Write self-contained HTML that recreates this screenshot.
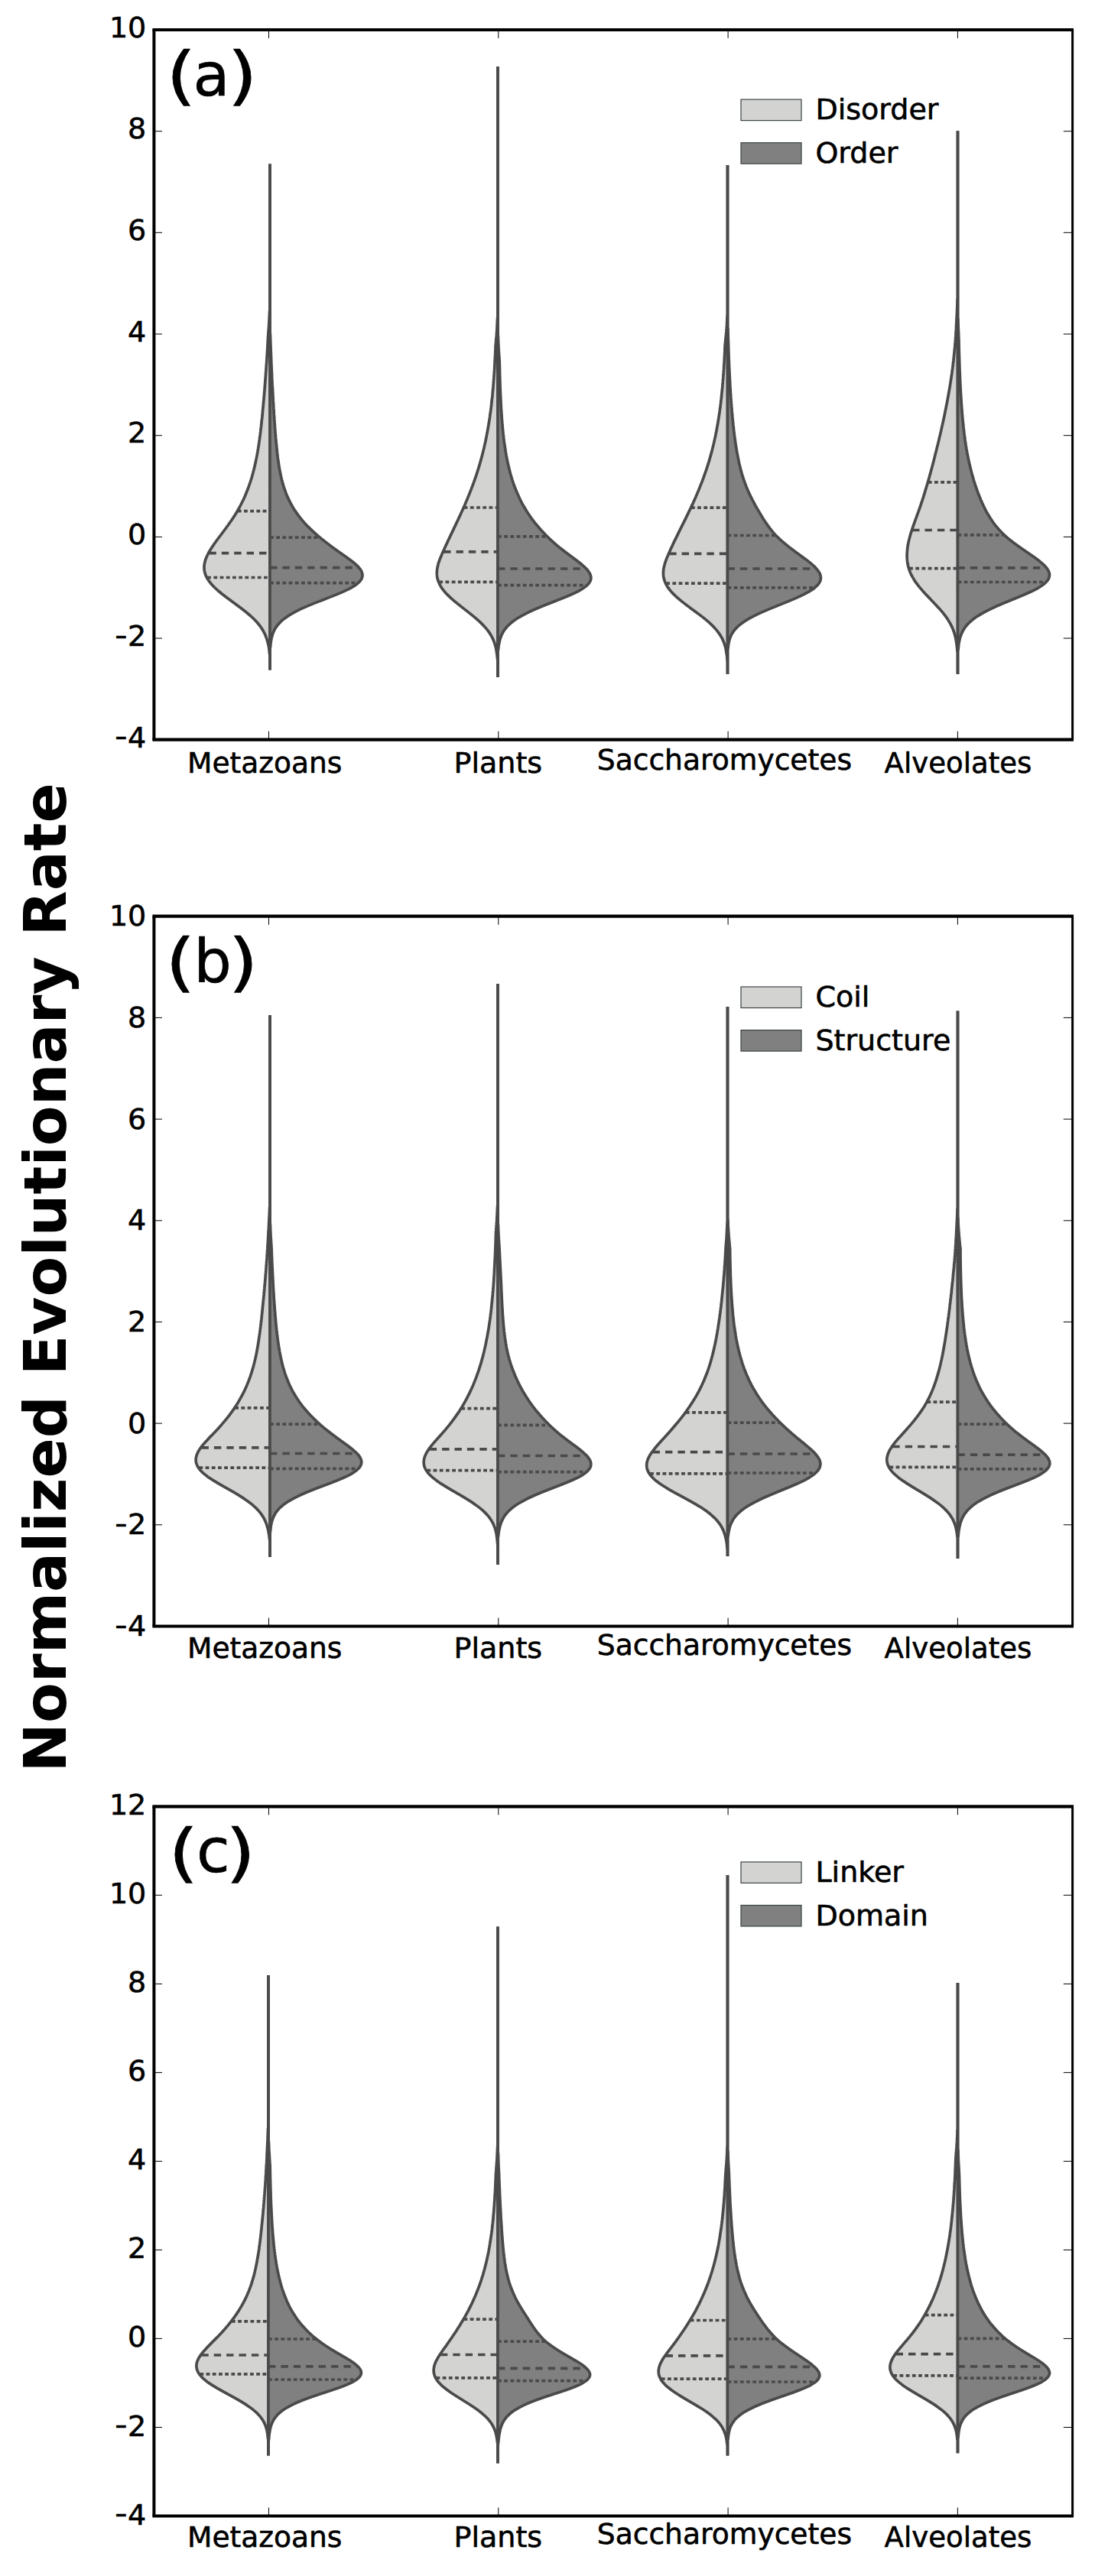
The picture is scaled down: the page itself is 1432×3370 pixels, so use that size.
<!DOCTYPE html>
<html lang="en"><head><meta charset="utf-8"><title>Normalized Evolutionary Rate</title>
<style>html,body{margin:0;padding:0;background:#fff;overflow:hidden}svg{display:block}text{font-family:"DejaVu Sans", "Liberation Sans", sans-serif;fill:#000}.t{font-size:38px;stroke:#000;stroke-width:.6px}.h{stroke-width:.5px}.v{stroke:#4a4a4a;stroke-width:3.7}.q{stroke:#4a4a4a;stroke-width:3.7;fill:none}.tk{stroke:#000;stroke-width:1}</style></head><body>
<svg width="1432" height="3370" viewBox="0 0 1432 3370">
<rect width="1432" height="3370" fill="#fff"/>
<text transform="translate(85.6 1671.4) rotate(-90)" text-anchor="middle" font-size="77" font-weight="bold" id="ylab">Normalized Evolutionary Rate</text>
<g id="panel-a">
<path class="v" fill="#d3d3d2" d="M353 214.5L353 405L352.6 407L352.5 409L352.4 411L352.3 413L352.2 415L352.2 417L352 419L351.9 421L351.8 423L351.7 425L351.6 427L351.4 429L351.3 431L351.1 433L351 435L350.8 437L350.7 439L350.5 441L350.4 443L350.3 445L350.2 447L350.1 449L350 451L349.9 453L349.8 455L349.7 457L349.6 459L349.4 461L349.3 463L349.2 465L349.1 467L348.9 469L348.8 471L348.7 473L348.6 475L348.4 477L348.3 479L348.1 481L348 483L347.9 485L347.7 487L347.6 489L347.4 491L347.3 493L347.1 495L347 497L346.8 499L346.7 501L346.5 503L346.4 505L346.2 507L346.1 509L345.9 511L345.7 513L345.6 515L345.4 517L345.2 519L345.1 521L344.9 523L344.7 525L344.5 527L344.4 529L344.2 531L344 533L343.8 535L343.6 537L343.4 539L343.3 541L343.1 543L342.9 545L342.7 547L342.4 549L342.2 551L342 553L341.8 555L341.6 557L341.4 559L341.1 561L340.9 563L340.7 565L340.4 567L340.2 569L339.9 571L339.6 573L339.4 575L339.1 577L338.8 579L338.5 581L338.2 583L337.9 585L337.6 587L337.2 589L336.9 591L336.5 593L336.2 595L335.8 597L335.4 599L335 601L334.6 603L334.2 605L333.7 607L333.3 609L332.8 611L332.3 613L331.8 615L331.3 617L330.8 619L330.2 621L329.7 623L329.1 625L328.5 627L327.8 629L327.2 631L326.5 633L325.8 635L325.1 637L324.4 639L323.6 641L322.8 643L322 645L321.2 647L320.4 649L319.5 651L318.6 653L317.6 655L316.6 657L315.6 659L314.6 661L313.6 663L312.5 665L311.3 667L310.2 669L309 671L307.7 673L306.5 675L305.2 677L303.9 679L302.5 681L301.1 683L299.7 685L298.3 687L296.8 689L295.4 691L293.9 693L292.4 695L290.9 697L289.4 699L287.9 701L286.4 703L284.9 705L283.4 707L282 709L280.5 711L279.2 713L277.8 715L276.5 717L275.2 719L274.1 721L272.9 723L271.9 725L270.9 727L270 729L269.2 731L268.5 733L268 735L267.5 737L267.2 739L267 741L267 743L267.1 745L267.4 747L267.8 749L268.4 751L269.2 753L270.1 755L271.2 757L272.5 759L273.9 761L275.5 763L277.2 765L279.1 767L281.1 769L283.3 771L285.5 773L287.9 775L290.3 777L292.9 779L295.5 781L298.2 783L300.9 785L303.6 787L306.3 789L309 791L311.7 793L314.4 795L317 797L319.6 799L322.1 801L324.5 803L326.8 805L329 807L331.2 809L333.2 811L335.1 813L336.9 815L338.5 817L340.1 819L341.5 821L342.8 823L344 825L345.1 827L346.1 829L347 831L347.8 833L348.5 835L349.2 837L349.8 839L350.3 841L350.8 843L351.2 845L351.6 847L351.9 849L352.1 851L352.3 853L352.5 855L353 857L353 876.5Z"/>
<path class="q" stroke-dasharray="4.8 3.4" d="M310.8 668.6H353"/>
<path class="q" stroke-dasharray="9.4 7" d="M273.4 723.6H353"/>
<path class="q" stroke-dasharray="4.8 3.4" d="M271.2 755.5H353"/>
<path class="v" fill="#808080" d="M353 214.5L353 434.9L353.4 436.9L353.5 438.9L353.5 440.9L353.6 442.9L353.7 444.9L353.7 446.9L353.8 448.9L353.9 450.9L354 452.9L354.1 454.9L354.1 456.9L354.2 458.9L354.3 460.9L354.4 462.9L354.5 464.9L354.5 466.9L354.6 468.9L354.7 470.9L354.8 472.9L354.8 474.9L354.9 476.9L355 478.9L355.1 480.9L355.2 482.9L355.3 484.9L355.4 486.9L355.5 488.9L355.6 490.9L355.6 492.9L355.7 494.9L355.8 496.9L355.9 498.9L356 500.9L356.1 502.9L356.2 504.9L356.4 506.9L356.5 508.9L356.6 510.9L356.7 512.9L356.8 514.9L356.9 516.9L357 518.9L357.1 520.9L357.2 522.9L357.3 524.9L357.5 526.9L357.6 528.9L357.7 530.9L357.8 532.9L357.9 534.9L358.1 536.9L358.2 538.9L358.3 540.9L358.4 542.9L358.6 544.9L358.7 546.9L358.8 548.9L359 550.9L359.1 552.9L359.3 554.9L359.4 556.9L359.5 558.9L359.7 560.9L359.8 562.9L360 564.9L360.1 566.9L360.3 568.9L360.5 570.9L360.6 572.9L360.8 574.9L361 576.9L361.2 578.9L361.4 580.9L361.6 582.9L361.8 584.9L362 586.9L362.2 588.9L362.4 590.9L362.6 592.9L362.9 594.9L363.1 596.9L363.3 598.9L363.6 600.9L363.9 602.9L364.2 604.9L364.5 606.9L364.8 608.9L365.1 610.9L365.4 612.9L365.8 614.9L366.2 616.9L366.6 618.9L367 620.9L367.4 622.9L367.9 624.9L368.3 626.9L368.8 628.9L369.4 630.9L369.9 632.9L370.5 634.9L371.1 636.9L371.8 638.9L372.5 640.9L373.2 642.9L373.9 644.9L374.7 646.9L375.6 648.9L376.4 650.9L377.4 652.9L378.3 654.9L379.3 656.9L380.4 658.9L381.5 660.9L382.6 662.9L383.8 664.9L385.1 666.9L386.4 668.9L387.8 670.9L389.2 672.9L390.7 674.9L392.2 676.9L393.8 678.9L395.5 680.9L397.2 682.9L399 684.9L400.9 686.9L402.8 688.9L404.8 690.9L406.9 692.9L409 694.9L411.2 696.9L413.4 698.9L415.7 700.9L418.1 702.9L420.5 704.9L423 706.9L425.6 708.9L428.2 710.9L430.8 712.9L433.5 714.9L436.3 716.9L439 718.9L441.8 720.9L444.7 722.9L447.5 724.9L450.4 726.9L453.2 728.9L455.9 730.9L458.6 732.9L461.2 734.9L463.6 736.9L465.8 738.9L467.9 740.9L469.7 742.9L471.2 744.9L472.4 746.9L473.3 748.9L473.8 750.9L474 752.9L473.7 754.9L473 756.9L471.8 758.9L470.2 760.9L468.1 762.9L465.6 764.9L462.7 766.9L459.3 768.9L455.6 770.9L451.4 772.9L447 774.9L442.3 776.9L437.4 778.9L432.3 780.9L427.2 782.9L422 784.9L416.9 786.9L411.8 788.9L406.9 790.9L402.1 792.9L397.5 794.9L393.1 796.9L389 798.9L385.2 800.9L381.6 802.9L378.2 804.9L375.2 806.9L372.4 808.9L369.9 810.9L367.6 812.9L365.6 814.9L363.8 816.9L362.2 818.9L360.8 820.9L359.6 822.9L358.5 824.9L357.6 826.9L356.8 828.9L356.2 830.9L355.6 832.9L355.1 834.9L354.7 836.9L354.4 838.9L354.1 840.9L353.9 842.9L353.7 844.9L353.5 846.9L353 848.9L353 876.5Z"/>
<path class="q" stroke-width="3" stroke-dasharray="4.8 3.4" d="M353 703.1H417.7"/>
<path class="q" stroke-width="3" stroke-dasharray="9.4 7" d="M353 742.7H468.4"/>
<path class="q" stroke-width="3" stroke-dasharray="4.8 3.4" d="M353 762.7H467.2"/>
<path class="v" fill="#d3d3d2" d="M651 87L651 413.9L650.6 415.9L650.5 417.9L650.4 419.9L650.3 421.9L650.2 423.9L650.1 425.9L650 427.9L649.9 429.9L649.8 431.9L649.6 433.9L649.5 435.9L649.3 437.9L649.2 439.9L649 441.9L648.8 443.9L648.6 445.9L648.5 447.9L648.3 449.9L648.1 451.9L648 453.9L648 455.9L647.9 457.9L647.8 459.9L647.7 461.9L647.6 463.9L647.5 465.9L647.4 467.9L647.3 469.9L647.2 471.9L647.1 473.9L647 475.9L646.9 477.9L646.8 479.9L646.7 481.9L646.6 483.9L646.4 485.9L646.3 487.9L646.2 489.9L646 491.9L645.9 493.9L645.7 495.9L645.6 497.9L645.4 499.9L645.3 501.9L645.1 503.9L645 505.9L644.8 507.9L644.6 509.9L644.4 511.9L644.2 513.9L644.1 515.9L643.9 517.9L643.7 519.9L643.4 521.9L643.2 523.9L643 525.9L642.8 527.9L642.6 529.9L642.3 531.9L642.1 533.9L641.8 535.9L641.6 537.9L641.3 539.9L641 541.9L640.7 543.9L640.5 545.9L640.2 547.9L639.9 549.9L639.6 551.9L639.2 553.9L638.9 555.9L638.6 557.9L638.2 559.9L637.9 561.9L637.5 563.9L637.2 565.9L636.8 567.9L636.4 569.9L636 571.9L635.6 573.9L635.2 575.9L634.8 577.9L634.3 579.9L633.9 581.9L633.4 583.9L633 585.9L632.5 587.9L632 589.9L631.5 591.9L631 593.9L630.5 595.9L630 597.9L629.4 599.9L628.9 601.9L628.3 603.9L627.7 605.9L627.2 607.9L626.6 609.9L626 611.9L625.3 613.9L624.7 615.9L624.1 617.9L623.4 619.9L622.8 621.9L622.1 623.9L621.4 625.9L620.7 627.9L620 629.9L619.3 631.9L618.5 633.9L617.8 635.9L617 637.9L616.3 639.9L615.5 641.9L614.7 643.9L613.9 645.9L613.1 647.9L612.3 649.9L611.5 651.9L610.6 653.9L609.8 655.9L608.9 657.9L608.1 659.9L607.2 661.9L606.3 663.9L605.4 665.9L604.5 667.9L603.6 669.9L602.7 671.9L601.8 673.9L600.9 675.9L599.9 677.9L599 679.9L598.1 681.9L597.1 683.9L596.2 685.9L595.2 687.9L594.3 689.9L593.3 691.9L592.4 693.9L591.4 695.9L590.5 697.9L589.5 699.9L588.6 701.9L587.6 703.9L586.7 705.9L585.7 707.9L584.8 709.9L583.9 711.9L582.9 713.9L582 715.9L581.1 717.9L580.2 719.9L579.3 721.9L578.4 723.9L577.6 725.9L576.7 727.9L575.9 729.9L575.1 731.9L574.4 733.9L573.7 735.9L573.1 737.9L572.6 739.9L572.2 741.9L571.8 743.9L571.5 745.9L571.4 747.9L571.3 749.9L571.4 751.9L571.6 753.9L571.9 755.9L572.4 757.9L573 759.9L573.8 761.9L574.7 763.9L575.7 765.9L576.9 767.9L578.2 769.9L579.7 771.9L581.3 773.9L583.1 775.9L585 777.9L587 779.9L589.1 781.9L591.3 783.9L593.6 785.9L596 787.9L598.5 789.9L601 791.9L603.5 793.9L606.1 795.9L608.6 797.9L611.2 799.9L613.7 801.9L616.2 803.9L618.7 805.9L621.1 807.9L623.4 809.9L625.7 811.9L627.9 813.9L629.9 815.9L631.9 817.9L633.8 819.9L635.5 821.9L637.2 823.9L638.7 825.9L640.1 827.9L641.4 829.9L642.5 831.9L643.6 833.9L644.6 835.9L645.5 837.9L646.2 839.9L646.9 841.9L647.5 843.9L648.1 845.9L648.5 847.9L648.9 849.9L649.3 851.9L649.6 853.9L649.9 855.9L650.1 857.9L650.3 859.9L650.5 861.9L651 863.9L651 886Z"/>
<path class="q" stroke-dasharray="4.8 3.4" d="M606.7 664H651"/>
<path class="q" stroke-dasharray="9.4 7" d="M580.1 721.8H651"/>
<path class="q" stroke-dasharray="4.8 3.4" d="M574.3 761.4H651"/>
<path class="v" fill="#808080" d="M651 87L651 437.8L651.4 439.8L651.5 441.8L651.5 443.8L651.6 445.8L651.7 447.8L651.8 449.8L651.9 451.8L652 453.8L652.1 455.8L652.2 457.8L652.3 459.8L652.5 461.8L652.6 463.8L652.7 465.8L652.9 467.8L653 469.8L653.2 471.8L653.3 473.8L653.3 475.8L653.4 477.8L653.4 479.8L653.5 481.8L653.5 483.8L653.5 485.8L653.6 487.8L653.6 489.8L653.7 491.8L653.7 493.8L653.8 495.8L653.9 497.8L653.9 499.8L654 501.8L654 503.8L654.1 505.8L654.2 507.8L654.3 509.8L654.3 511.8L654.4 513.8L654.5 515.8L654.6 517.8L654.7 519.8L654.8 521.8L654.9 523.8L655 525.8L655.1 527.8L655.2 529.8L655.3 531.8L655.4 533.8L655.5 535.8L655.6 537.8L655.8 539.8L655.9 541.8L656 543.8L656.2 545.8L656.3 547.8L656.5 549.8L656.6 551.8L656.8 553.8L657 555.8L657.1 557.8L657.3 559.8L657.5 561.8L657.7 563.8L657.9 565.8L658.1 567.8L658.4 569.8L658.6 571.8L658.8 573.8L659.1 575.8L659.3 577.8L659.6 579.8L659.9 581.8L660.2 583.8L660.5 585.8L660.8 587.8L661.1 589.8L661.4 591.8L661.8 593.8L662.1 595.8L662.5 597.8L662.9 599.8L663.3 601.8L663.7 603.8L664.1 605.8L664.5 607.8L665 609.8L665.5 611.8L666 613.8L666.5 615.8L667 617.8L667.5 619.8L668.1 621.8L668.7 623.8L669.3 625.8L669.9 627.8L670.6 629.8L671.2 631.8L671.9 633.8L672.7 635.8L673.4 637.8L674.2 639.8L675 641.8L675.8 643.8L676.7 645.8L677.6 647.8L678.5 649.8L679.4 651.8L680.4 653.8L681.4 655.8L682.4 657.8L683.5 659.8L684.6 661.8L685.8 663.8L687 665.8L688.2 667.8L689.4 669.8L690.7 671.8L692.1 673.8L693.5 675.8L694.9 677.8L696.4 679.8L697.9 681.8L699.4 683.8L701 685.8L702.7 687.8L704.4 689.8L706.1 691.8L707.9 693.8L709.8 695.8L711.7 697.8L713.6 699.8L715.6 701.8L717.7 703.8L719.8 705.8L722 707.8L724.2 709.8L726.5 711.8L728.8 713.8L731.2 715.8L733.7 717.8L736.2 719.8L738.8 721.8L741.4 723.8L744.1 725.8L746.8 727.8L749.5 729.8L752.2 731.8L754.8 733.8L757.4 735.8L759.9 737.8L762.3 739.8L764.5 741.8L766.5 743.8L768.3 745.8L769.8 747.8L771.1 749.8L772.1 751.8L772.6 753.8L772.9 755.8L772.7 757.8L772.1 759.8L771 761.8L769.6 763.8L767.6 765.8L765.2 767.8L762.4 769.8L759.1 771.8L755.5 773.8L751.4 775.8L747.1 777.8L742.5 779.8L737.7 781.8L732.7 783.8L727.6 785.8L722.6 787.8L717.5 789.8L712.4 791.8L707.5 793.8L702.7 795.8L698.1 797.8L693.7 799.8L689.5 801.8L685.6 803.8L681.9 805.8L678.4 807.8L675.3 809.8L672.4 811.8L669.7 813.8L667.3 815.8L665.1 817.8L663.2 819.8L661.5 821.8L659.9 823.8L658.6 825.8L657.4 827.8L656.4 829.8L655.5 831.8L654.8 833.8L654.1 835.8L653.6 837.8L653.1 839.8L652.7 841.8L652.3 843.8L652 845.8L651.8 847.8L651.6 849.8L651 851.8L651 886Z"/>
<path class="q" stroke-width="3" stroke-dasharray="4.8 3.4" d="M651 701.8H715"/>
<path class="q" stroke-width="3" stroke-dasharray="9.4 7" d="M651 744H765.5"/>
<path class="q" stroke-width="3" stroke-dasharray="4.8 3.4" d="M651 765.7H766.6"/>
<path class="v" fill="#d3d3d2" d="M951.5 216L951.5 411.9L951 413.9L951 415.9L950.9 417.9L950.8 419.9L950.7 421.9L950.6 423.9L950.5 425.9L950.3 427.9L950.2 429.9L950 431.9L949.9 433.9L949.7 435.9L949.5 437.9L949.3 439.9L949.1 441.9L948.9 443.9L948.7 445.9L948.5 447.9L948.3 449.9L948.1 451.9L948 453.9L947.9 455.9L947.9 457.9L947.8 459.9L947.7 461.9L947.6 463.9L947.5 465.9L947.4 467.9L947.3 469.9L947.2 471.9L947.1 473.9L946.9 475.9L946.8 477.9L946.7 479.9L946.6 481.9L946.5 483.9L946.3 485.9L946.2 487.9L946 489.9L945.9 491.9L945.8 493.9L945.6 495.9L945.4 497.9L945.3 499.9L945.1 501.9L944.9 503.9L944.8 505.9L944.6 507.9L944.4 509.9L944.2 511.9L944 513.9L943.8 515.9L943.6 517.9L943.4 519.9L943.2 521.9L942.9 523.9L942.7 525.9L942.5 527.9L942.2 529.9L942 531.9L941.7 533.9L941.4 535.9L941.2 537.9L940.9 539.9L940.6 541.9L940.3 543.9L940 545.9L939.7 547.9L939.4 549.9L939 551.9L938.7 553.9L938.4 555.9L938 557.9L937.6 559.9L937.3 561.9L936.9 563.9L936.5 565.9L936.1 567.9L935.7 569.9L935.3 571.9L934.8 573.9L934.4 575.9L933.9 577.9L933.5 579.9L933 581.9L932.5 583.9L932 585.9L931.5 587.9L931 589.9L930.5 591.9L929.9 593.9L929.4 595.9L928.8 597.9L928.2 599.9L927.7 601.9L927.1 603.9L926.4 605.9L925.8 607.9L925.2 609.9L924.5 611.9L923.9 613.9L923.2 615.9L922.5 617.9L921.8 619.9L921.1 621.9L920.4 623.9L919.7 625.9L918.9 627.9L918.2 629.9L917.4 631.9L916.6 633.9L915.8 635.9L915 637.9L914.2 639.9L913.4 641.9L912.5 643.9L911.7 645.9L910.8 647.9L910 649.9L909.1 651.9L908.2 653.9L907.3 655.9L906.4 657.9L905.5 659.9L904.5 661.9L903.6 663.9L902.7 665.9L901.7 667.9L900.7 669.9L899.8 671.9L898.8 673.9L897.8 675.9L896.9 677.9L895.9 679.9L894.9 681.9L893.9 683.9L892.9 685.9L891.9 687.9L890.9 689.9L889.9 691.9L888.9 693.9L887.9 695.9L886.9 697.9L886 699.9L885 701.9L884 703.9L883 705.9L882 707.9L881.1 709.9L880.1 711.9L879.2 713.9L878.3 715.9L877.3 717.9L876.4 719.9L875.5 721.9L874.6 723.9L873.8 725.9L872.9 727.9L872.1 729.9L871.3 731.9L870.6 733.9L869.9 735.9L869.3 737.9L868.8 739.9L868.3 741.9L867.9 743.9L867.6 745.9L867.5 747.9L867.4 749.9L867.5 751.9L867.7 753.9L868 755.9L868.5 757.9L869.1 759.9L869.9 761.9L870.8 763.9L871.9 765.9L873.1 767.9L874.5 769.9L876 771.9L877.7 773.9L879.5 775.9L881.5 777.9L883.6 779.9L885.8 781.9L888.1 783.9L890.5 785.9L893 787.9L895.6 789.9L898.3 791.9L900.9 793.9L903.6 795.9L906.4 797.9L909.1 799.9L911.8 801.9L914.4 803.9L917.1 805.9L919.6 807.9L922.1 809.9L924.5 811.9L926.8 813.9L929 815.9L931.1 817.9L933.1 819.9L935 821.9L936.7 823.9L938.3 825.9L939.8 827.9L941.2 829.9L942.5 831.9L943.6 833.9L944.7 835.9L945.6 837.9L946.4 839.9L947.2 841.9L947.8 843.9L948.4 845.9L948.9 847.9L949.3 849.9L949.7 851.9L950 853.9L950.3 855.9L950.6 857.9L950.8 859.9L951 861.9L951.1 863.9L951.5 865.9L951.5 882Z"/>
<path class="q" stroke-dasharray="4.8 3.4" d="M903.9 664.2H951.5"/>
<path class="q" stroke-dasharray="9.4 7" d="M875.2 724.3H951.5"/>
<path class="q" stroke-dasharray="4.8 3.4" d="M871.2 763.2H951.5"/>
<path class="v" fill="#808080" d="M951.5 216L951.5 427.9L951.9 429.9L952 431.9L952 433.9L952.1 435.9L952.2 437.9L952.2 439.9L952.3 441.9L952.3 443.9L952.4 445.9L952.5 447.9L952.6 449.9L952.6 451.9L952.7 453.9L952.7 455.9L952.8 457.9L952.9 459.9L952.9 461.9L953 463.9L953.1 465.9L953.1 467.9L953.2 469.9L953.3 471.9L953.4 473.9L953.4 475.9L953.5 477.9L953.6 479.9L953.7 481.9L953.8 483.9L953.9 485.9L954 487.9L954.1 489.9L954.2 491.9L954.3 493.9L954.4 495.9L954.5 497.9L954.6 499.9L954.7 501.9L954.8 503.9L954.9 505.9L955.1 507.9L955.2 509.9L955.3 511.9L955.4 513.9L955.6 515.9L955.7 517.9L955.8 519.9L956 521.9L956.1 523.9L956.3 525.9L956.4 527.9L956.6 529.9L956.7 531.9L956.9 533.9L957.1 535.9L957.2 537.9L957.4 539.9L957.6 541.9L957.8 543.9L957.9 545.9L958.1 547.9L958.3 549.9L958.5 551.9L958.7 553.9L958.9 555.9L959.2 557.9L959.4 559.9L959.6 561.9L959.8 563.9L960.1 565.9L960.3 567.9L960.6 569.9L960.8 571.9L961.1 573.9L961.4 575.9L961.6 577.9L961.9 579.9L962.2 581.9L962.5 583.9L962.8 585.9L963.2 587.9L963.5 589.9L963.8 591.9L964.2 593.9L964.6 595.9L965 597.9L965.4 599.9L965.8 601.9L966.2 603.9L966.6 605.9L967.1 607.9L967.6 609.9L968.1 611.9L968.6 613.9L969.1 615.9L969.7 617.9L970.2 619.9L970.8 621.9L971.5 623.9L972.1 625.9L972.8 627.9L973.5 629.9L974.2 631.9L975 633.9L975.7 635.9L976.5 637.9L977.4 639.9L978.2 641.9L979.1 643.9L980 645.9L981 647.9L981.9 649.9L982.9 651.9L983.9 653.9L985 655.9L986.1 657.9L987.1 659.9L988.2 661.9L989.4 663.9L990.5 665.9L991.7 667.9L992.9 669.9L994.1 671.9L995.3 673.9L996.5 675.9L997.7 677.9L999 679.9L1000.3 681.9L1001.6 683.9L1003 685.9L1004.4 687.9L1005.9 689.9L1007.4 691.9L1009 693.9L1010.6 695.9L1012.4 697.9L1014.2 699.9L1016.1 701.9L1018.2 703.9L1020.3 705.9L1022.5 707.9L1024.9 709.9L1027.3 711.9L1029.8 713.9L1032.3 715.9L1035 717.9L1037.6 719.9L1040.3 721.9L1043.1 723.9L1045.8 725.9L1048.6 727.9L1051.3 729.9L1054 731.9L1056.5 733.9L1059.1 735.9L1061.4 737.9L1063.7 739.9L1065.8 741.9L1067.6 743.9L1069.3 745.9L1070.7 747.9L1071.9 749.9L1072.7 751.9L1073.2 753.9L1073.4 755.9L1073.2 757.9L1072.7 759.9L1071.8 761.9L1070.5 763.9L1068.7 765.9L1066.6 767.9L1064.2 769.9L1061.3 771.9L1058.1 773.9L1054.5 775.9L1050.7 777.9L1046.5 779.9L1042.2 781.9L1037.6 783.9L1032.9 785.9L1028 787.9L1023.1 789.9L1018.1 791.9L1013.2 793.9L1008.3 795.9L1003.5 797.9L998.8 799.9L994.3 801.9L990 803.9L986 805.9L982.1 807.9L978.5 809.9L975.2 811.9L972.1 813.9L969.4 815.9L966.9 817.9L964.6 819.9L962.6 821.9L960.8 823.9L959.3 825.9L958 827.9L956.8 829.9L955.8 831.9L955 833.9L954.3 835.9L953.7 837.9L953.3 839.9L952.9 841.9L952.5 843.9L952.3 845.9L952.1 847.9L951.5 849.9L951.5 882Z"/>
<path class="q" stroke-width="3" stroke-dasharray="4.8 3.4" d="M951.5 700.5H1014.1"/>
<path class="q" stroke-width="3" stroke-dasharray="9.4 7" d="M951.5 744H1066.6"/>
<path class="q" stroke-width="3" stroke-dasharray="4.8 3.4" d="M951.5 768.8H1064.5"/>
<path class="v" fill="#d3d3d2" d="M1252.5 171.3L1252.5 389.9L1252.1 391.9L1252 393.9L1252 395.9L1251.9 397.9L1251.8 399.9L1251.8 401.9L1251.7 403.9L1251.6 405.9L1251.5 407.9L1251.4 409.9L1251.3 411.9L1251.2 413.9L1251.1 415.9L1251 417.9L1250.9 419.9L1250.8 421.9L1250.7 423.9L1250.6 425.9L1250.5 427.9L1250.4 429.9L1250.3 431.9L1250.1 433.9L1250 435.9L1249.9 437.9L1249.8 439.9L1249.6 441.9L1249.5 443.9L1249.3 445.9L1249.2 447.9L1249 449.9L1248.8 451.9L1248.7 453.9L1248.5 455.9L1248.3 457.9L1248.1 459.9L1247.9 461.9L1247.7 463.9L1247.5 465.9L1247.3 467.9L1247.1 469.9L1246.9 471.9L1246.6 473.9L1246.4 475.9L1246.2 477.9L1245.9 479.9L1245.7 481.9L1245.4 483.9L1245.1 485.9L1244.9 487.9L1244.6 489.9L1244.3 491.9L1244 493.9L1243.7 495.9L1243.4 497.9L1243.1 499.9L1242.8 501.9L1242.5 503.9L1242.2 505.9L1241.8 507.9L1241.5 509.9L1241.1 511.9L1240.8 513.9L1240.4 515.9L1240.1 517.9L1239.7 519.9L1239.4 521.9L1239 523.9L1238.6 525.9L1238.2 527.9L1237.8 529.9L1237.4 531.9L1237 533.9L1236.6 535.9L1236.2 537.9L1235.8 539.9L1235.4 541.9L1235 543.9L1234.6 545.9L1234.1 547.9L1233.7 549.9L1233.3 551.9L1232.8 553.9L1232.4 555.9L1231.9 557.9L1231.5 559.9L1231 561.9L1230.6 563.9L1230.1 565.9L1229.7 567.9L1229.2 569.9L1228.7 571.9L1228.2 573.9L1227.8 575.9L1227.3 577.9L1226.8 579.9L1226.3 581.9L1225.8 583.9L1225.3 585.9L1224.8 587.9L1224.4 589.9L1223.8 591.9L1223.3 593.9L1222.8 595.9L1222.3 597.9L1221.8 599.9L1221.3 601.9L1220.8 603.9L1220.3 605.9L1219.7 607.9L1219.2 609.9L1218.7 611.9L1218.1 613.9L1217.6 615.9L1217 617.9L1216.5 619.9L1215.9 621.9L1215.4 623.9L1214.8 625.9L1214.3 627.9L1213.7 629.9L1213.1 631.9L1212.5 633.9L1211.9 635.9L1211.3 637.9L1210.7 639.9L1210.1 641.9L1209.5 643.9L1208.9 645.9L1208.3 647.9L1207.7 649.9L1207 651.9L1206.4 653.9L1205.7 655.9L1205 657.9L1204.4 659.9L1203.7 661.9L1203 663.9L1202.3 665.9L1201.6 667.9L1200.9 669.9L1200.1 671.9L1199.4 673.9L1198.7 675.9L1198 677.9L1197.2 679.9L1196.5 681.9L1195.8 683.9L1195.1 685.9L1194.4 687.9L1193.7 689.9L1193 691.9L1192.4 693.9L1191.7 695.9L1191.1 697.9L1190.5 699.9L1189.9 701.9L1189.4 703.9L1188.9 705.9L1188.4 707.9L1188 709.9L1187.6 711.9L1187.2 713.9L1186.9 715.9L1186.7 717.9L1186.5 719.9L1186.3 721.9L1186.2 723.9L1186.1 725.9L1186.1 727.9L1186.2 729.9L1186.3 731.9L1186.5 733.9L1186.8 735.9L1187.1 737.9L1187.5 739.9L1188 741.9L1188.6 743.9L1189.2 745.9L1190 747.9L1190.8 749.9L1191.7 751.9L1192.8 753.9L1193.9 755.9L1195.1 757.9L1196.3 759.9L1197.7 761.9L1199.2 763.9L1200.7 765.9L1202.3 767.9L1204 769.9L1205.7 771.9L1207.5 773.9L1209.3 775.9L1211.2 777.9L1213 779.9L1215 781.9L1216.9 783.9L1218.8 785.9L1220.7 787.9L1222.6 789.9L1224.5 791.9L1226.3 793.9L1228.2 795.9L1229.9 797.9L1231.6 799.9L1233.3 801.9L1234.8 803.9L1236.4 805.9L1237.8 807.9L1239.2 809.9L1240.4 811.9L1241.6 813.9L1242.8 815.9L1243.8 817.9L1244.8 819.9L1245.7 821.9L1246.5 823.9L1247.2 825.9L1247.9 827.9L1248.5 829.9L1249 831.9L1249.5 833.9L1249.9 835.9L1250.3 837.9L1250.6 839.9L1250.9 841.9L1251.2 843.9L1251.4 845.9L1251.6 847.9L1251.8 849.9L1252 851.9L1252.5 853.9L1252.5 882Z"/>
<path class="q" stroke-dasharray="4.8 3.4" d="M1213.8 630.8H1252.5"/>
<path class="q" stroke-dasharray="9.4 7" d="M1193.1 693.5H1252.5"/>
<path class="q" stroke-dasharray="4.8 3.4" d="M1189.1 743.6H1252.5"/>
<path class="v" fill="#808080" d="M1252.5 171.3L1252.5 415.8L1252.9 417.8L1253 419.8L1253 421.8L1253.1 423.8L1253.2 425.8L1253.2 427.8L1253.3 429.8L1253.4 431.8L1253.5 433.8L1253.6 435.8L1253.7 437.8L1253.7 439.8L1253.8 441.8L1253.9 443.8L1254 445.8L1254 447.8L1254 449.8L1254.1 451.8L1254.1 453.8L1254.2 455.8L1254.2 457.8L1254.3 459.8L1254.3 461.8L1254.4 463.8L1254.5 465.8L1254.5 467.8L1254.6 469.8L1254.6 471.8L1254.7 473.8L1254.8 475.8L1254.8 477.8L1254.9 479.8L1255 481.8L1255 483.8L1255.1 485.8L1255.2 487.8L1255.3 489.8L1255.4 491.8L1255.4 493.8L1255.5 495.8L1255.6 497.8L1255.7 499.8L1255.8 501.8L1255.9 503.8L1256 505.8L1256.1 507.8L1256.2 509.8L1256.3 511.8L1256.4 513.8L1256.5 515.8L1256.7 517.8L1256.8 519.8L1256.9 521.8L1257 523.8L1257.2 525.8L1257.3 527.8L1257.4 529.8L1257.6 531.8L1257.7 533.8L1257.9 535.8L1258 537.8L1258.2 539.8L1258.4 541.8L1258.5 543.8L1258.7 545.8L1258.9 547.8L1259.1 549.8L1259.3 551.8L1259.5 553.8L1259.7 555.8L1259.9 557.8L1260.1 559.8L1260.4 561.8L1260.6 563.8L1260.8 565.8L1261.1 567.8L1261.3 569.8L1261.6 571.8L1261.9 573.8L1262.1 575.8L1262.4 577.8L1262.7 579.8L1263 581.8L1263.3 583.8L1263.7 585.8L1264 587.8L1264.4 589.8L1264.7 591.8L1265.1 593.8L1265.5 595.8L1265.9 597.8L1266.3 599.8L1266.7 601.8L1267.1 603.8L1267.6 605.8L1268 607.8L1268.5 609.8L1269 611.8L1269.5 613.8L1270 615.8L1270.5 617.8L1271 619.8L1271.6 621.8L1272.2 623.8L1272.7 625.8L1273.3 627.8L1273.9 629.8L1274.6 631.8L1275.2 633.8L1275.9 635.8L1276.6 637.8L1277.2 639.8L1278 641.8L1278.7 643.8L1279.4 645.8L1280.2 647.8L1281 649.8L1281.8 651.8L1282.6 653.8L1283.5 655.8L1284.3 657.8L1285.3 659.8L1286.2 661.8L1287.2 663.8L1288.2 665.8L1289.2 667.8L1290.3 669.8L1291.4 671.8L1292.6 673.8L1293.8 675.8L1295 677.8L1296.4 679.8L1297.7 681.8L1299.1 683.8L1300.6 685.8L1302.2 687.8L1303.8 689.8L1305.5 691.8L1307.3 693.8L1309.2 695.8L1311.2 697.8L1313.3 699.8L1315.5 701.8L1317.8 703.8L1320.2 705.8L1322.7 707.8L1325.2 709.8L1327.9 711.8L1330.7 713.8L1333.5 715.8L1336.4 717.8L1339.3 719.8L1342.2 721.8L1345.1 723.8L1348 725.8L1350.9 727.8L1353.7 729.8L1356.4 731.8L1359 733.8L1361.5 735.8L1363.8 737.8L1365.9 739.8L1367.7 741.8L1369.3 743.8L1370.6 745.8L1371.6 747.8L1372.3 749.8L1372.5 751.8L1372.4 753.8L1371.9 755.8L1371 757.8L1369.6 759.8L1367.8 761.8L1365.6 763.8L1363 765.8L1360 767.8L1356.6 769.8L1352.8 771.8L1348.8 773.8L1344.4 775.8L1339.9 777.8L1335.2 779.8L1330.4 781.8L1325.5 783.8L1320.6 785.8L1315.7 787.8L1310.9 789.8L1306.2 791.8L1301.7 793.8L1297.3 795.8L1293.2 797.8L1289.2 799.8L1285.5 801.8L1282.1 803.8L1278.8 805.8L1275.8 807.8L1273.1 809.8L1270.6 811.8L1268.3 813.8L1266.3 815.8L1264.5 817.8L1262.8 819.8L1261.4 821.8L1260.1 823.8L1259 825.8L1258 827.8L1257.1 829.8L1256.4 831.8L1255.7 833.8L1255.2 835.8L1254.7 837.8L1254.3 839.8L1254 841.8L1253.7 843.8L1253.5 845.8L1253.3 847.8L1253.1 849.8L1252.5 851.8L1252.5 882Z"/>
<path class="q" stroke-width="3" stroke-dasharray="4.8 3.4" d="M1252.5 699.9H1312.7"/>
<path class="q" stroke-width="3" stroke-dasharray="9.4 7" d="M1252.5 742.8H1367.4"/>
<path class="q" stroke-width="3" stroke-dasharray="4.8 3.4" d="M1252.5 761.5H1367"/>
<text class="t" text-anchor="end"><tspan class="h" x="166.6" y="976.2" textLength="16.7" lengthAdjust="spacingAndGlyphs">-</tspan><tspan x="191.3" y="977.5">4</tspan></text>
<text class="t" text-anchor="end"><tspan class="h" x="166.6" y="843.5" textLength="16.7" lengthAdjust="spacingAndGlyphs">-</tspan><tspan x="191.3" y="844.8">2</tspan></text>
<text class="t" x="191.3" y="712.1" text-anchor="end">0</text>
<text class="t" x="191.3" y="579.4" text-anchor="end">2</text>
<text class="t" x="191.3" y="446.8" text-anchor="end">4</text>
<text class="t" x="191.3" y="314.1" text-anchor="end">6</text>
<text class="t" x="191.3" y="181.4" text-anchor="end">8</text>
<text class="t" x="191.3" y="48.8" text-anchor="end">10</text>
<path class="tk" d="M201.4 835h10.6M1402.5 835h-11.7M201.4 702.4h10.6M1402.5 702.4h-11.7M201.4 569.7h10.6M1402.5 569.7h-11.7M201.4 437h10.6M1402.5 437h-11.7M201.4 304.3h10.6M1402.5 304.3h-11.7M201.4 171.7h10.6M1402.5 171.7h-11.7M351.5 39v11M351.5 967.7v-11M651.8 39v11M651.8 967.7v-11M952.1 39v11M952.1 967.7v-11M1252.4 39v11M1252.4 967.7v-11"/>
<path fill="none" stroke="#000" stroke-width="4.2" d="M199.4 39H1404M199.4 967.7H1404"/>
<path fill="none" stroke="#000" stroke-width="4" d="M201.4 39V967.7"/>
<path fill="none" stroke="#000" stroke-width="3" d="M1402.6 39V967.7"/>
<text class="t" transform="translate(346.2 1011.2) scale(0.989 1)" text-anchor="middle">Metazoans</text>
<text class="t" transform="translate(651.3 1011.2) scale(1.0 1)" text-anchor="middle">Plants</text>
<text class="t" transform="translate(947.4 1006.7) scale(0.991 1)" text-anchor="middle">Saccharomycetes</text>
<text class="t" transform="translate(1253 1011.2) scale(0.976 1)" text-anchor="middle">Alveolates</text>
<text font-size="83" stroke="#000" stroke-width=".7"><tspan x="217.2" y="128.4" textLength="39.2" lengthAdjust="spacingAndGlyphs">(</tspan><tspan x="252.6" y="125" font-size="78">a</tspan><tspan x="297.4" y="128.4" textLength="39.2" lengthAdjust="spacingAndGlyphs">)</tspan></text>
<rect x="969" y="130.1" width="79" height="27.5" fill="#d3d3d2" stroke="#3c4446" stroke-width="1.2"/>
<text class="t" style="font-size:37.3px" transform="translate(1066.4 156.1) scale(1.02 1)">Disorder</text>
<rect x="969" y="186.7" width="79" height="27.5" fill="#808080" stroke="#3c4446" stroke-width="1.2"/>
<text class="t" style="font-size:37.3px" transform="translate(1066.4 212.7) scale(1.02 1)">Order</text>
</g>
<g id="panel-b">
<path class="v" fill="#d3d3d2" d="M353 1328L353 1577.9L352.6 1579.9L352.5 1581.9L352.5 1583.9L352.4 1585.9L352.3 1587.9L352.2 1589.9L352.1 1591.9L352 1593.9L351.9 1595.9L351.8 1597.9L351.7 1599.9L351.6 1601.9L351.5 1603.9L351.4 1605.9L351.3 1607.9L351.1 1609.9L351 1611.9L350.9 1613.9L350.8 1615.9L350.7 1617.9L350.6 1619.9L350.5 1621.9L350.4 1623.9L350.3 1625.9L350.1 1627.9L350 1629.9L349.9 1631.9L349.8 1633.9L349.6 1635.9L349.5 1637.9L349.4 1639.9L349.2 1641.9L349.1 1643.9L349 1645.9L348.8 1647.9L348.7 1649.9L348.5 1651.9L348.4 1653.9L348.2 1655.9L348.1 1657.9L347.9 1659.9L347.8 1661.9L347.6 1663.9L347.5 1665.9L347.3 1667.9L347.1 1669.9L347 1671.9L346.8 1673.9L346.6 1675.9L346.5 1677.9L346.3 1679.9L346.1 1681.9L345.9 1683.9L345.8 1685.9L345.6 1687.9L345.4 1689.9L345.2 1691.9L345.1 1693.9L344.9 1695.9L344.7 1697.9L344.5 1699.9L344.3 1701.9L344.1 1703.9L343.9 1705.9L343.7 1707.9L343.5 1709.9L343.3 1711.9L343.1 1713.9L342.9 1715.9L342.7 1717.9L342.5 1719.9L342.3 1721.9L342.1 1723.9L341.9 1725.9L341.6 1727.9L341.4 1729.9L341.2 1731.9L340.9 1733.9L340.7 1735.9L340.4 1737.9L340.2 1739.9L339.9 1741.9L339.7 1743.9L339.4 1745.9L339.1 1747.9L338.8 1749.9L338.5 1751.9L338.2 1753.9L337.9 1755.9L337.6 1757.9L337.3 1759.9L337 1761.9L336.6 1763.9L336.2 1765.9L335.9 1767.9L335.5 1769.9L335.1 1771.9L334.7 1773.9L334.2 1775.9L333.8 1777.9L333.3 1779.9L332.8 1781.9L332.3 1783.9L331.8 1785.9L331.3 1787.9L330.7 1789.9L330.1 1791.9L329.5 1793.9L328.9 1795.9L328.2 1797.9L327.6 1799.9L326.9 1801.9L326.1 1803.9L325.4 1805.9L324.6 1807.9L323.8 1809.9L323 1811.9L322.1 1813.9L321.2 1815.9L320.3 1817.9L319.4 1819.9L318.4 1821.9L317.4 1823.9L316.3 1825.9L315.2 1827.9L314.1 1829.9L313 1831.9L311.8 1833.9L310.6 1835.9L309.3 1837.9L308.1 1839.9L306.7 1841.9L305.4 1843.9L304 1845.9L302.5 1847.9L301.1 1849.9L299.6 1851.9L298 1853.9L296.4 1855.9L294.8 1857.9L293.1 1859.9L291.4 1861.9L289.7 1863.9L287.9 1865.9L286.1 1867.9L284.3 1869.9L282.4 1871.9L280.5 1873.9L278.6 1875.9L276.7 1877.9L274.7 1879.9L272.8 1881.9L271 1883.9L269.1 1885.9L267.4 1887.9L265.7 1889.9L264 1891.9L262.5 1893.9L261.1 1895.9L259.9 1897.9L258.8 1899.9L257.9 1901.9L257.1 1903.9L256.6 1905.9L256.2 1907.9L256.1 1909.9L256.3 1911.9L256.6 1913.9L257.3 1915.9L258.2 1917.9L259.4 1919.9L260.8 1921.9L262.5 1923.9L264.4 1925.9L266.6 1927.9L269.1 1929.9L271.7 1931.9L274.6 1933.9L277.7 1935.9L280.9 1937.9L284.2 1939.9L287.6 1941.9L291.1 1943.9L294.6 1945.9L298.2 1947.9L301.7 1949.9L305.2 1951.9L308.6 1953.9L311.9 1955.9L315.1 1957.9L318.2 1959.9L321.2 1961.9L324 1963.9L326.7 1965.9L329.2 1967.9L331.5 1969.9L333.7 1971.9L335.8 1973.9L337.7 1975.9L339.4 1977.9L341 1979.9L342.4 1981.9L343.7 1983.9L344.9 1985.9L345.9 1987.9L346.9 1989.9L347.7 1991.9L348.5 1993.9L349.1 1995.9L349.7 1997.9L350.2 1999.9L350.7 2001.9L351.1 2003.9L351.5 2005.9L351.8 2007.9L352.1 2009.9L352.3 2011.9L352.5 2013.9L353 2015.9L353 2037Z"/>
<path class="q" stroke-dasharray="4.8 3.4" d="M307.2 1841.9H353"/>
<path class="q" stroke-dasharray="9.4 7" d="M263.5 1893.8H353"/>
<path class="q" stroke-dasharray="4.8 3.4" d="M260.4 1920.1H353"/>
<path class="v" fill="#808080" d="M353 1328L353 1599.8L353.4 1601.8L353.5 1603.8L353.6 1605.8L353.6 1607.8L353.7 1609.8L353.8 1611.8L353.9 1613.8L354 1615.8L354.1 1617.8L354.2 1619.8L354.4 1621.8L354.5 1623.8L354.6 1625.8L354.7 1627.8L354.9 1629.8L355 1631.8L355.1 1633.8L355.2 1635.8L355.3 1637.8L355.3 1639.8L355.4 1641.8L355.5 1643.8L355.6 1645.8L355.7 1647.8L355.7 1649.8L355.8 1651.8L355.9 1653.8L356 1655.8L356.1 1657.8L356.2 1659.8L356.3 1661.8L356.4 1663.8L356.5 1665.8L356.6 1667.8L356.7 1669.8L356.8 1671.8L356.9 1673.8L357 1675.8L357.1 1677.8L357.2 1679.8L357.3 1681.8L357.4 1683.8L357.5 1685.8L357.6 1687.8L357.7 1689.8L357.9 1691.8L358 1693.8L358.1 1695.8L358.2 1697.8L358.4 1699.8L358.5 1701.8L358.6 1703.8L358.8 1705.8L358.9 1707.8L359.1 1709.8L359.2 1711.8L359.4 1713.8L359.5 1715.8L359.7 1717.8L359.8 1719.8L360 1721.8L360.2 1723.8L360.4 1725.8L360.5 1727.8L360.7 1729.8L360.9 1731.8L361.1 1733.8L361.3 1735.8L361.5 1737.8L361.7 1739.8L362 1741.8L362.2 1743.8L362.4 1745.8L362.7 1747.8L362.9 1749.8L363.2 1751.8L363.4 1753.8L363.7 1755.8L364 1757.8L364.3 1759.8L364.6 1761.8L365 1763.8L365.3 1765.8L365.6 1767.8L366 1769.8L366.4 1771.8L366.8 1773.8L367.2 1775.8L367.6 1777.8L368.1 1779.8L368.5 1781.8L369 1783.8L369.5 1785.8L370 1787.8L370.6 1789.8L371.2 1791.8L371.8 1793.8L372.4 1795.8L373.1 1797.8L373.8 1799.8L374.5 1801.8L375.3 1803.8L376.1 1805.8L376.9 1807.8L377.7 1809.8L378.6 1811.8L379.6 1813.8L380.6 1815.8L381.6 1817.8L382.6 1819.8L383.7 1821.8L384.9 1823.8L386.1 1825.8L387.3 1827.8L388.6 1829.8L390 1831.8L391.3 1833.8L392.8 1835.8L394.3 1837.8L395.8 1839.8L397.4 1841.8L399.1 1843.8L400.8 1845.8L402.6 1847.8L404.4 1849.8L406.3 1851.8L408.3 1853.8L410.3 1855.8L412.4 1857.8L414.5 1859.8L416.7 1861.8L418.9 1863.8L421.2 1865.8L423.6 1867.8L426 1869.8L428.5 1871.8L431 1873.8L433.6 1875.8L436.2 1877.8L438.9 1879.8L441.6 1881.8L444.4 1883.8L447.1 1885.8L449.9 1887.8L452.7 1889.8L455.4 1891.8L458 1893.8L460.5 1895.8L462.9 1897.8L465.1 1899.8L467.1 1901.8L468.9 1903.8L470.4 1905.8L471.5 1907.8L472.3 1909.8L472.7 1911.8L472.7 1913.8L472.3 1915.8L471.4 1917.8L470.1 1919.8L468.3 1921.8L466 1923.8L463.2 1925.8L460.1 1927.8L456.4 1929.8L452.4 1931.8L448 1933.8L443.3 1935.8L438.4 1937.8L433.3 1939.8L428.1 1941.8L422.8 1943.8L417.5 1945.8L412.3 1947.8L407.2 1949.8L402.3 1951.8L397.6 1953.8L393.1 1955.8L388.8 1957.8L384.8 1959.8L381.1 1961.8L377.7 1963.8L374.6 1965.8L371.8 1967.8L369.2 1969.8L366.9 1971.8L364.9 1973.8L363.1 1975.8L361.5 1977.8L360.2 1979.8L359 1981.8L358 1983.8L357.1 1985.8L356.4 1987.8L355.7 1989.8L355.2 1991.8L354.8 1993.8L354.4 1995.8L354.1 1997.8L353.9 1999.8L353.7 2001.8L353.5 2003.8L353 2005.8L353 2037Z"/>
<path class="q" stroke-width="3" stroke-dasharray="4.8 3.4" d="M353 1863.1H417.4"/>
<path class="q" stroke-width="3" stroke-dasharray="9.4 7" d="M353 1901.5H465.7"/>
<path class="q" stroke-width="3" stroke-dasharray="4.8 3.4" d="M353 1921.4H467.6"/>
<path class="v" fill="#d3d3d2" d="M651 1287L651 1575.9L650.6 1577.9L650.5 1579.9L650.4 1581.9L650.3 1583.9L650.2 1585.9L650.2 1587.9L650 1589.9L649.9 1591.9L649.8 1593.9L649.7 1595.9L649.6 1597.9L649.4 1599.9L649.3 1601.9L649.1 1603.9L649 1605.9L648.8 1607.9L648.7 1609.9L648.5 1611.9L648.5 1613.9L648.4 1615.9L648.4 1617.9L648.3 1619.9L648.2 1621.9L648.2 1623.9L648.1 1625.9L648 1627.9L648 1629.9L647.9 1631.9L647.8 1633.9L647.7 1635.9L647.7 1637.9L647.6 1639.9L647.5 1641.9L647.4 1643.9L647.3 1645.9L647.2 1647.9L647.1 1649.9L647 1651.9L646.9 1653.9L646.8 1655.9L646.7 1657.9L646.6 1659.9L646.5 1661.9L646.4 1663.9L646.3 1665.9L646.2 1667.9L646 1669.9L645.9 1671.9L645.8 1673.9L645.7 1675.9L645.5 1677.9L645.4 1679.9L645.2 1681.9L645.1 1683.9L644.9 1685.9L644.8 1687.9L644.6 1689.9L644.4 1691.9L644.3 1693.9L644.1 1695.9L643.9 1697.9L643.7 1699.9L643.5 1701.9L643.3 1703.9L643.1 1705.9L642.9 1707.9L642.7 1709.9L642.5 1711.9L642.3 1713.9L642 1715.9L641.8 1717.9L641.5 1719.9L641.3 1721.9L641 1723.9L640.8 1725.9L640.5 1727.9L640.2 1729.9L639.9 1731.9L639.6 1733.9L639.3 1735.9L639 1737.9L638.7 1739.9L638.3 1741.9L638 1743.9L637.6 1745.9L637.3 1747.9L636.9 1749.9L636.5 1751.9L636.1 1753.9L635.7 1755.9L635.3 1757.9L634.9 1759.9L634.4 1761.9L634 1763.9L633.5 1765.9L633.1 1767.9L632.6 1769.9L632.1 1771.9L631.6 1773.9L631 1775.9L630.5 1777.9L629.9 1779.9L629.4 1781.9L628.8 1783.9L628.2 1785.9L627.6 1787.9L626.9 1789.9L626.3 1791.9L625.6 1793.9L624.9 1795.9L624.2 1797.9L623.5 1799.9L622.8 1801.9L622 1803.9L621.2 1805.9L620.4 1807.9L619.6 1809.9L618.8 1811.9L617.9 1813.9L617 1815.9L616.1 1817.9L615.2 1819.9L614.2 1821.9L613.3 1823.9L612.2 1825.9L611.2 1827.9L610.2 1829.9L609.1 1831.9L608 1833.9L606.9 1835.9L605.7 1837.9L604.5 1839.9L603.3 1841.9L602 1843.9L600.8 1845.9L599.5 1847.9L598.1 1849.9L596.7 1851.9L595.3 1853.9L593.9 1855.9L592.4 1857.9L590.9 1859.9L589.4 1861.9L587.8 1863.9L586.2 1865.9L584.5 1867.9L582.9 1869.9L581.1 1871.9L579.4 1873.9L577.6 1875.9L575.8 1877.9L574 1879.9L572.2 1881.9L570.5 1883.9L568.7 1885.9L567 1887.9L565.3 1889.9L563.7 1891.9L562.2 1893.9L560.7 1895.9L559.4 1897.9L558.2 1899.9L557.1 1901.9L556.2 1903.9L555.4 1905.9L554.8 1907.9L554.4 1909.9L554.2 1911.9L554.2 1913.9L554.4 1915.9L554.8 1917.9L555.5 1919.9L556.4 1921.9L557.6 1923.9L559 1925.9L560.7 1927.9L562.6 1929.9L564.7 1931.9L567 1933.9L569.6 1935.9L572.3 1937.9L575.2 1939.9L578.2 1941.9L581.4 1943.9L584.7 1945.9L588 1947.9L591.4 1949.9L594.9 1951.9L598.3 1953.9L601.8 1955.9L605.2 1957.9L608.5 1959.9L611.8 1961.9L614.9 1963.9L618 1965.9L620.9 1967.9L623.7 1969.9L626.3 1971.9L628.8 1973.9L631.2 1975.9L633.3 1977.9L635.3 1979.9L637.2 1981.9L638.9 1983.9L640.4 1985.9L641.8 1987.9L643 1989.9L644.2 1991.9L645.2 1993.9L646 1995.9L646.8 1997.9L647.5 1999.9L648 2001.9L648.5 2003.9L649 2005.9L649.3 2007.9L649.6 2009.9L649.9 2011.9L650.1 2013.9L650.3 2015.9L650.5 2017.9L650.6 2019.9L651 2021.9L651 2047Z"/>
<path class="q" stroke-dasharray="4.8 3.4" d="M603.3 1842.6H651"/>
<path class="q" stroke-dasharray="9.4 7" d="M561.7 1895.8H651"/>
<path class="q" stroke-dasharray="4.8 3.4" d="M558.4 1923.7H651"/>
<path class="v" fill="#808080" d="M651 1287L651 1599.8L651.4 1601.8L651.5 1603.8L651.6 1605.8L651.6 1607.8L651.7 1609.8L651.8 1611.8L651.9 1613.8L652 1615.8L652.1 1617.8L652.2 1619.8L652.3 1621.8L652.5 1623.8L652.6 1625.8L652.7 1627.8L652.8 1629.8L653 1631.8L653.1 1633.8L653.2 1635.8L653.3 1637.8L653.4 1639.8L653.5 1641.8L653.6 1643.8L653.7 1645.8L653.8 1647.8L653.9 1649.8L654 1651.8L654.1 1653.8L654.2 1655.8L654.3 1657.8L654.4 1659.8L654.5 1661.8L654.6 1663.8L654.7 1665.8L654.8 1667.8L654.9 1669.8L655 1671.8L655.1 1673.8L655.2 1675.8L655.3 1677.8L655.4 1679.8L655.5 1681.8L655.6 1683.8L655.6 1685.8L655.7 1687.8L655.8 1689.8L655.9 1691.8L656 1693.8L656.1 1695.8L656.2 1697.8L656.3 1699.8L656.4 1701.8L656.5 1703.8L656.6 1705.8L656.7 1707.8L656.8 1709.8L656.9 1711.8L657 1713.8L657.2 1715.8L657.3 1717.8L657.4 1719.8L657.5 1721.8L657.7 1723.8L657.8 1725.8L658 1727.8L658.2 1729.8L658.3 1731.8L658.5 1733.8L658.7 1735.8L658.9 1737.8L659.1 1739.8L659.3 1741.8L659.6 1743.8L659.8 1745.8L660.1 1747.8L660.3 1749.8L660.6 1751.8L660.9 1753.8L661.2 1755.8L661.5 1757.8L661.9 1759.8L662.2 1761.8L662.6 1763.8L663 1765.8L663.4 1767.8L663.9 1769.8L664.3 1771.8L664.8 1773.8L665.4 1775.8L665.9 1777.8L666.5 1779.8L667.1 1781.8L667.7 1783.8L668.4 1785.8L669.1 1787.8L669.8 1789.8L670.5 1791.8L671.3 1793.8L672.1 1795.8L672.9 1797.8L673.7 1799.8L674.6 1801.8L675.5 1803.8L676.4 1805.8L677.4 1807.8L678.3 1809.8L679.4 1811.8L680.4 1813.8L681.5 1815.8L682.5 1817.8L683.7 1819.8L684.8 1821.8L686 1823.8L687.3 1825.8L688.5 1827.8L689.8 1829.8L691.1 1831.8L692.5 1833.8L693.9 1835.8L695.4 1837.8L696.8 1839.8L698.4 1841.8L699.9 1843.8L701.5 1845.8L703.2 1847.8L704.9 1849.8L706.6 1851.8L708.4 1853.8L710.2 1855.8L712.1 1857.8L714 1859.8L716 1861.8L718 1863.8L720.1 1865.8L722.3 1867.8L724.5 1869.8L726.7 1871.8L729 1873.8L731.4 1875.8L733.8 1877.8L736.3 1879.8L738.8 1881.8L741.5 1883.8L744.1 1885.8L746.8 1887.8L749.5 1889.8L752.3 1891.8L754.9 1893.8L757.5 1895.8L760 1897.8L762.4 1899.8L764.6 1901.8L766.7 1903.8L768.5 1905.8L770 1907.8L771.3 1909.8L772.2 1911.8L772.7 1913.8L772.8 1915.8L772.6 1917.8L771.9 1919.8L770.7 1921.8L769 1923.8L766.9 1925.8L764.4 1927.8L761.3 1929.8L757.9 1931.8L754 1933.8L749.7 1935.8L745.2 1937.8L740.4 1939.8L735.4 1941.8L730.3 1943.8L725.1 1945.8L720 1947.8L714.8 1949.8L709.8 1951.8L704.9 1953.8L700.2 1955.8L695.7 1957.8L691.4 1959.8L687.3 1961.8L683.6 1963.8L680 1965.8L676.8 1967.8L673.8 1969.8L671 1971.8L668.5 1973.8L666.3 1975.8L664.3 1977.8L662.5 1979.8L660.9 1981.8L659.5 1983.8L658.2 1985.8L657.2 1987.8L656.2 1989.8L655.4 1991.8L654.7 1993.8L654.1 1995.8L653.6 1997.8L653.1 1999.8L652.7 2001.8L652.4 2003.8L652.1 2005.8L651.8 2007.8L651.6 2009.8L651 2011.8L651 2047Z"/>
<path class="q" stroke-width="3" stroke-dasharray="4.8 3.4" d="M651 1864.4H717.9"/>
<path class="q" stroke-width="3" stroke-dasharray="9.4 7" d="M651 1904.5H766.1"/>
<path class="q" stroke-width="3" stroke-dasharray="4.8 3.4" d="M651 1925.7H765.9"/>
<path class="v" fill="#d3d3d2" d="M951.5 1317L951.5 1597.8L951.1 1599.8L951 1601.8L950.9 1603.8L950.8 1605.8L950.7 1607.8L950.6 1609.8L950.5 1611.8L950.4 1613.8L950.3 1615.8L950.2 1617.8L950.1 1619.8L949.9 1621.8L949.8 1623.8L949.6 1625.8L949.5 1627.8L949.3 1629.8L949.2 1631.8L949 1633.8L948.9 1635.8L948.8 1637.8L948.7 1639.8L948.6 1641.8L948.5 1643.8L948.4 1645.8L948.2 1647.8L948.1 1649.8L948 1651.8L947.9 1653.8L947.7 1655.8L947.6 1657.8L947.5 1659.8L947.3 1661.8L947.2 1663.8L947 1665.8L946.9 1667.8L946.7 1669.8L946.5 1671.8L946.4 1673.8L946.2 1675.8L946 1677.8L945.9 1679.8L945.7 1681.8L945.5 1683.8L945.3 1685.8L945.1 1687.8L944.9 1689.8L944.7 1691.8L944.5 1693.8L944.3 1695.8L944.1 1697.8L943.9 1699.8L943.7 1701.8L943.5 1703.8L943.2 1705.8L943 1707.8L942.8 1709.8L942.5 1711.8L942.3 1713.8L942 1715.8L941.8 1717.8L941.5 1719.8L941.2 1721.8L941 1723.8L940.7 1725.8L940.4 1727.8L940.1 1729.8L939.8 1731.8L939.5 1733.8L939.2 1735.8L938.9 1737.8L938.5 1739.8L938.2 1741.8L937.9 1743.8L937.5 1745.8L937.1 1747.8L936.8 1749.8L936.4 1751.8L936 1753.8L935.6 1755.8L935.2 1757.8L934.8 1759.8L934.3 1761.8L933.9 1763.8L933.4 1765.8L933 1767.8L932.5 1769.8L932 1771.8L931.5 1773.8L930.9 1775.8L930.4 1777.8L929.8 1779.8L929.3 1781.8L928.7 1783.8L928.1 1785.8L927.4 1787.8L926.8 1789.8L926.1 1791.8L925.4 1793.8L924.7 1795.8L923.9 1797.8L923.1 1799.8L922.3 1801.8L921.5 1803.8L920.7 1805.8L919.8 1807.8L918.9 1809.8L918 1811.8L917 1813.8L916 1815.8L915 1817.8L914 1819.8L912.9 1821.8L911.8 1823.8L910.7 1825.8L909.6 1827.8L908.4 1829.8L907.1 1831.8L905.9 1833.8L904.6 1835.8L903.3 1837.8L902 1839.8L900.6 1841.8L899.2 1843.8L897.8 1845.8L896.3 1847.8L894.9 1849.8L893.3 1851.8L891.8 1853.8L890.2 1855.8L888.6 1857.8L887 1859.8L885.4 1861.8L883.7 1863.8L882 1865.8L880.3 1867.8L878.6 1869.8L876.8 1871.8L875.1 1873.8L873.3 1875.8L871.5 1877.8L869.7 1879.8L867.9 1881.8L866 1883.8L864.2 1885.8L862.4 1887.8L860.6 1889.8L858.9 1891.8L857.2 1893.8L855.6 1895.8L854 1897.8L852.5 1899.8L851.2 1901.8L849.9 1903.8L848.8 1905.8L847.8 1907.8L847 1909.8L846.4 1911.8L845.9 1913.8L845.7 1915.8L845.7 1917.8L845.9 1919.8L846.3 1921.8L847 1923.8L847.9 1925.8L849.1 1927.8L850.5 1929.8L852.2 1931.8L854.1 1933.8L856.3 1935.8L858.7 1937.8L861.3 1939.8L864.1 1941.8L867.2 1943.8L870.4 1945.8L873.7 1947.8L877.2 1949.8L880.7 1951.8L884.4 1953.8L888.1 1955.8L891.8 1957.8L895.5 1959.8L899.1 1961.8L902.8 1963.8L906.3 1965.8L909.8 1967.8L913.1 1969.8L916.3 1971.8L919.4 1973.8L922.3 1975.8L925.1 1977.8L927.7 1979.8L930.1 1981.8L932.4 1983.8L934.5 1985.8L936.4 1987.8L938.2 1989.8L939.8 1991.8L941.3 1993.8L942.6 1995.8L943.8 1997.8L944.8 1999.8L945.8 2001.8L946.6 2003.8L947.3 2005.8L948 2007.8L948.5 2009.8L949 2011.8L949.5 2013.8L949.9 2015.8L950.2 2017.8L950.5 2019.8L950.7 2021.8L950.9 2023.8L951.1 2025.8L951.5 2027.8L951.5 2036Z"/>
<path class="q" stroke-dasharray="4.8 3.4" d="M896.9 1847.8H951.5"/>
<path class="q" stroke-dasharray="9.4 7" d="M853.6 1899.7H951.5"/>
<path class="q" stroke-dasharray="4.8 3.4" d="M850.1 1927.8H951.5"/>
<path class="v" fill="#808080" d="M951.5 1317L951.5 1593.8L951.9 1595.8L952 1597.8L952.1 1599.8L952.1 1601.8L952.2 1603.8L952.3 1605.8L952.4 1607.8L952.6 1609.8L952.7 1611.8L952.8 1613.8L953 1615.8L953.1 1617.8L953.3 1619.8L953.5 1621.8L953.7 1623.8L953.9 1625.8L954 1627.8L954.2 1629.8L954.4 1631.8L954.6 1633.8L954.6 1635.8L954.7 1637.8L954.7 1639.8L954.7 1641.8L954.7 1643.8L954.8 1645.8L954.8 1647.8L954.9 1649.8L954.9 1651.8L955 1653.8L955 1655.8L955.1 1657.8L955.1 1659.8L955.2 1661.8L955.2 1663.8L955.3 1665.8L955.3 1667.8L955.4 1669.8L955.5 1671.8L955.6 1673.8L955.6 1675.8L955.7 1677.8L955.8 1679.8L955.9 1681.8L956 1683.8L956.1 1685.8L956.2 1687.8L956.3 1689.8L956.4 1691.8L956.5 1693.8L956.6 1695.8L956.8 1697.8L956.9 1699.8L957 1701.8L957.2 1703.8L957.3 1705.8L957.5 1707.8L957.6 1709.8L957.8 1711.8L958 1713.8L958.2 1715.8L958.3 1717.8L958.5 1719.8L958.7 1721.8L959 1723.8L959.2 1725.8L959.4 1727.8L959.6 1729.8L959.9 1731.8L960.1 1733.8L960.4 1735.8L960.7 1737.8L961 1739.8L961.3 1741.8L961.6 1743.8L961.9 1745.8L962.2 1747.8L962.6 1749.8L962.9 1751.8L963.3 1753.8L963.7 1755.8L964.1 1757.8L964.5 1759.8L964.9 1761.8L965.4 1763.8L965.9 1765.8L966.3 1767.8L966.9 1769.8L967.4 1771.8L967.9 1773.8L968.5 1775.8L969.1 1777.8L969.7 1779.8L970.3 1781.8L970.9 1783.8L971.6 1785.8L972.3 1787.8L973 1789.8L973.7 1791.8L974.5 1793.8L975.3 1795.8L976.1 1797.8L977 1799.8L977.9 1801.8L978.8 1803.8L979.7 1805.8L980.7 1807.8L981.7 1809.8L982.7 1811.8L983.8 1813.8L984.9 1815.8L986 1817.8L987.2 1819.8L988.4 1821.8L989.6 1823.8L990.9 1825.8L992.2 1827.8L993.6 1829.8L995 1831.8L996.4 1833.8L997.9 1835.8L999.4 1837.8L1001 1839.8L1002.6 1841.8L1004.2 1843.8L1005.9 1845.8L1007.7 1847.8L1009.4 1849.8L1011.2 1851.8L1013.1 1853.8L1015 1855.8L1016.9 1857.8L1018.9 1859.8L1020.9 1861.8L1023 1863.8L1025.1 1865.8L1027.3 1867.8L1029.4 1869.8L1031.7 1871.8L1033.9 1873.8L1036.2 1875.8L1038.6 1877.8L1040.9 1879.8L1043.3 1881.8L1045.8 1883.8L1048.2 1885.8L1050.7 1887.8L1053.1 1889.8L1055.5 1891.8L1057.9 1893.8L1060.1 1895.8L1062.3 1897.8L1064.3 1899.8L1066.2 1901.8L1067.9 1903.8L1069.4 1905.8L1070.7 1907.8L1071.7 1909.8L1072.4 1911.8L1072.8 1913.8L1072.9 1915.8L1072.6 1917.8L1072 1919.8L1071 1921.8L1069.6 1923.8L1067.8 1925.8L1065.6 1927.8L1063.1 1929.8L1060.2 1931.8L1056.9 1933.8L1053.3 1935.8L1049.4 1937.8L1045.2 1939.8L1040.8 1941.8L1036.2 1943.8L1031.5 1945.8L1026.6 1947.8L1021.7 1949.8L1016.9 1951.8L1012 1953.8L1007.3 1955.8L1002.6 1957.8L998.1 1959.8L993.8 1961.8L989.7 1963.8L985.8 1965.8L982.2 1967.8L978.7 1969.8L975.6 1971.8L972.7 1973.8L970 1975.8L967.6 1977.8L965.4 1979.8L963.5 1981.8L961.7 1983.8L960.2 1985.8L958.8 1987.8L957.7 1989.8L956.7 1991.8L955.8 1993.8L955 1995.8L954.4 1997.8L953.8 1999.8L953.4 2001.8L953 2003.8L952.6 2005.8L952.4 2007.8L952.1 2009.8L951.5 2011.8L951.5 2036Z"/>
<path class="q" stroke-width="3" stroke-dasharray="4.8 3.4" d="M951.5 1861.1H1019.5"/>
<path class="q" stroke-width="3" stroke-dasharray="9.4 7" d="M951.5 1902H1065.2"/>
<path class="q" stroke-width="3" stroke-dasharray="4.8 3.4" d="M951.5 1927H1065.4"/>
<path class="v" fill="#d3d3d2" d="M1252.5 1322.5L1252.5 1579.9L1252.1 1581.9L1252 1583.9L1251.9 1585.9L1251.9 1587.9L1251.8 1589.9L1251.7 1591.9L1251.6 1593.9L1251.5 1595.9L1251.4 1597.9L1251.3 1599.9L1251.2 1601.9L1251.1 1603.9L1251 1605.9L1250.9 1607.9L1250.8 1609.9L1250.7 1611.9L1250.6 1613.9L1250.5 1615.9L1250.4 1617.9L1250.2 1619.9L1250.1 1621.9L1250 1623.9L1249.9 1625.9L1249.8 1627.9L1249.6 1629.9L1249.5 1631.9L1249.4 1633.9L1249.2 1635.9L1249.1 1637.9L1248.9 1639.9L1248.8 1641.9L1248.6 1643.9L1248.5 1645.9L1248.3 1647.9L1248.2 1649.9L1248 1651.9L1247.8 1653.9L1247.6 1655.9L1247.5 1657.9L1247.3 1659.9L1247.1 1661.9L1246.9 1663.9L1246.7 1665.9L1246.5 1667.9L1246.3 1669.9L1246.2 1671.9L1246 1673.9L1245.8 1675.9L1245.5 1677.9L1245.3 1679.9L1245.1 1681.9L1244.9 1683.9L1244.7 1685.9L1244.5 1687.9L1244.3 1689.9L1244.1 1691.9L1243.8 1693.9L1243.6 1695.9L1243.4 1697.9L1243.1 1699.9L1242.9 1701.9L1242.7 1703.9L1242.4 1705.9L1242.2 1707.9L1242 1709.9L1241.7 1711.9L1241.5 1713.9L1241.2 1715.9L1241 1717.9L1240.7 1719.9L1240.5 1721.9L1240.2 1723.9L1239.9 1725.9L1239.7 1727.9L1239.4 1729.9L1239.1 1731.9L1238.9 1733.9L1238.6 1735.9L1238.3 1737.9L1238 1739.9L1237.7 1741.9L1237.4 1743.9L1237.1 1745.9L1236.8 1747.9L1236.5 1749.9L1236.2 1751.9L1235.9 1753.9L1235.6 1755.9L1235.2 1757.9L1234.9 1759.9L1234.5 1761.9L1234.2 1763.9L1233.8 1765.9L1233.4 1767.9L1233.1 1769.9L1232.7 1771.9L1232.3 1773.9L1231.9 1775.9L1231.5 1777.9L1231 1779.9L1230.6 1781.9L1230.1 1783.9L1229.7 1785.9L1229.2 1787.9L1228.7 1789.9L1228.2 1791.9L1227.6 1793.9L1227.1 1795.9L1226.5 1797.9L1225.9 1799.9L1225.3 1801.9L1224.7 1803.9L1224.1 1805.9L1223.4 1807.9L1222.7 1809.9L1222 1811.9L1221.3 1813.9L1220.5 1815.9L1219.7 1817.9L1218.9 1819.9L1218 1821.9L1217.1 1823.9L1216.2 1825.9L1215.3 1827.9L1214.3 1829.9L1213.2 1831.9L1212.2 1833.9L1211.1 1835.9L1209.9 1837.9L1208.7 1839.9L1207.4 1841.9L1206.1 1843.9L1204.8 1845.9L1203.4 1847.9L1202 1849.9L1200.5 1851.9L1199 1853.9L1197.4 1855.9L1195.9 1857.9L1194.2 1859.9L1192.6 1861.9L1190.9 1863.9L1189.1 1865.9L1187.4 1867.9L1185.6 1869.9L1183.8 1871.9L1182 1873.9L1180.2 1875.9L1178.4 1877.9L1176.6 1879.9L1174.8 1881.9L1173.1 1883.9L1171.4 1885.9L1169.8 1887.9L1168.3 1889.9L1166.8 1891.9L1165.5 1893.9L1164.2 1895.9L1163.1 1897.9L1162.1 1899.9L1161.3 1901.9L1160.7 1903.9L1160.2 1905.9L1159.9 1907.9L1159.8 1909.9L1160 1911.9L1160.3 1913.9L1160.9 1915.9L1161.7 1917.9L1162.8 1919.9L1164 1921.9L1165.5 1923.9L1167.3 1925.9L1169.2 1927.9L1171.4 1929.9L1173.7 1931.9L1176.2 1933.9L1179 1935.9L1181.8 1937.9L1184.8 1939.9L1187.9 1941.9L1191.1 1943.9L1194.3 1945.9L1197.6 1947.9L1201 1949.9L1204.3 1951.9L1207.6 1953.9L1210.8 1955.9L1214 1957.9L1217.1 1959.9L1220.1 1961.9L1223 1963.9L1225.8 1965.9L1228.4 1967.9L1230.9 1969.9L1233.2 1971.9L1235.3 1973.9L1237.3 1975.9L1239.2 1977.9L1240.8 1979.9L1242.4 1981.9L1243.7 1983.9L1245 1985.9L1246.1 1987.9L1247 1989.9L1247.9 1991.9L1248.6 1993.9L1249.3 1995.9L1249.8 1997.9L1250.3 1999.9L1250.7 2001.9L1251.1 2003.9L1251.4 2005.9L1251.7 2007.9L1251.9 2009.9L1252.5 2011.9L1252.5 2039Z"/>
<path class="q" stroke-dasharray="4.8 3.4" d="M1212.4 1834.2H1252.5"/>
<path class="q" stroke-dasharray="9.4 7" d="M1167.3 1892.5H1252.5"/>
<path class="q" stroke-dasharray="4.8 3.4" d="M1163.4 1919.4H1252.5"/>
<path class="v" fill="#808080" d="M1252.5 1322.5L1252.5 1591.8L1252.9 1593.8L1253 1595.8L1253 1597.8L1253.1 1599.8L1253.2 1601.8L1253.3 1603.8L1253.4 1605.8L1253.6 1607.8L1253.7 1609.8L1253.8 1611.8L1254 1613.8L1254.2 1615.8L1254.3 1617.8L1254.5 1619.8L1254.7 1621.8L1254.9 1623.8L1255.1 1625.8L1255.3 1627.8L1255.5 1629.8L1255.8 1631.8L1256 1633.8L1256 1635.8L1256 1637.8L1256 1639.8L1256 1641.8L1256 1643.8L1256 1645.8L1256.1 1647.8L1256.1 1649.8L1256.1 1651.8L1256.2 1653.8L1256.2 1655.8L1256.2 1657.8L1256.3 1659.8L1256.3 1661.8L1256.3 1663.8L1256.4 1665.8L1256.4 1667.8L1256.5 1669.8L1256.5 1671.8L1256.6 1673.8L1256.7 1675.8L1256.7 1677.8L1256.8 1679.8L1256.9 1681.8L1256.9 1683.8L1257 1685.8L1257.1 1687.8L1257.2 1689.8L1257.3 1691.8L1257.3 1693.8L1257.4 1695.8L1257.5 1697.8L1257.6 1699.8L1257.8 1701.8L1257.9 1703.8L1258 1705.8L1258.1 1707.8L1258.2 1709.8L1258.4 1711.8L1258.5 1713.8L1258.7 1715.8L1258.8 1717.8L1259 1719.8L1259.1 1721.8L1259.3 1723.8L1259.5 1725.8L1259.7 1727.8L1259.9 1729.8L1260.1 1731.8L1260.3 1733.8L1260.5 1735.8L1260.7 1737.8L1261 1739.8L1261.2 1741.8L1261.5 1743.8L1261.7 1745.8L1262 1747.8L1262.3 1749.8L1262.6 1751.8L1262.9 1753.8L1263.2 1755.8L1263.6 1757.8L1263.9 1759.8L1264.3 1761.8L1264.6 1763.8L1265 1765.8L1265.4 1767.8L1265.9 1769.8L1266.3 1771.8L1266.7 1773.8L1267.2 1775.8L1267.7 1777.8L1268.2 1779.8L1268.7 1781.8L1269.3 1783.8L1269.9 1785.8L1270.4 1787.8L1271.1 1789.8L1271.7 1791.8L1272.3 1793.8L1273 1795.8L1273.7 1797.8L1274.5 1799.8L1275.2 1801.8L1276 1803.8L1276.8 1805.8L1277.7 1807.8L1278.6 1809.8L1279.5 1811.8L1280.4 1813.8L1281.4 1815.8L1282.4 1817.8L1283.5 1819.8L1284.6 1821.8L1285.7 1823.8L1286.9 1825.8L1288.1 1827.8L1289.3 1829.8L1290.6 1831.8L1291.9 1833.8L1293.3 1835.8L1294.7 1837.8L1296.2 1839.8L1297.7 1841.8L1299.2 1843.8L1300.9 1845.8L1302.5 1847.8L1304.2 1849.8L1306 1851.8L1307.8 1853.8L1309.7 1855.8L1311.6 1857.8L1313.6 1859.8L1315.6 1861.8L1317.7 1863.8L1319.9 1865.8L1322.1 1867.8L1324.4 1869.8L1326.7 1871.8L1329.1 1873.8L1331.6 1875.8L1334.1 1877.8L1336.7 1879.8L1339.4 1881.8L1342.1 1883.8L1344.8 1885.8L1347.6 1887.8L1350.4 1889.8L1353.2 1891.8L1355.9 1893.8L1358.5 1895.8L1361 1897.8L1363.4 1899.8L1365.6 1901.8L1367.6 1903.8L1369.3 1905.8L1370.7 1907.8L1371.8 1909.8L1372.5 1911.8L1372.8 1913.8L1372.7 1915.8L1372.2 1917.8L1371.1 1919.8L1369.6 1921.8L1367.6 1923.8L1365.1 1925.8L1362.2 1927.8L1358.8 1929.8L1354.9 1931.8L1350.7 1933.8L1346.1 1935.8L1341.2 1937.8L1336.1 1939.8L1330.9 1941.8L1325.7 1943.8L1320.4 1945.8L1315.3 1947.8L1310.2 1949.8L1305.3 1951.8L1300.5 1953.8L1296 1955.8L1291.8 1957.8L1287.8 1959.8L1284 1961.8L1280.6 1963.8L1277.4 1965.8L1274.5 1967.8L1271.8 1969.8L1269.4 1971.8L1267.3 1973.8L1265.4 1975.8L1263.7 1977.8L1262.1 1979.8L1260.8 1981.8L1259.6 1983.8L1258.6 1985.8L1257.7 1987.8L1256.9 1989.8L1256.2 1991.8L1255.7 1993.8L1255.2 1995.8L1254.7 1997.8L1254.4 1999.8L1254 2001.8L1253.7 2003.8L1253.5 2005.8L1253.3 2007.8L1253.1 2009.8L1252.5 2011.8L1252.5 2039Z"/>
<path class="q" stroke-width="3" stroke-dasharray="4.8 3.4" d="M1252.5 1863.1H1316.3"/>
<path class="q" stroke-width="3" stroke-dasharray="9.4 7" d="M1252.5 1903.2H1365.8"/>
<path class="q" stroke-width="3" stroke-dasharray="4.8 3.4" d="M1252.5 1921.9H1368.4"/>
<text class="t" text-anchor="end"><tspan class="h" x="166.6" y="2138.6" textLength="16.7" lengthAdjust="spacingAndGlyphs">-</tspan><tspan x="191.3" y="2139.9">4</tspan></text>
<text class="t" text-anchor="end"><tspan class="h" x="166.6" y="2005.9" textLength="16.7" lengthAdjust="spacingAndGlyphs">-</tspan><tspan x="191.3" y="2007.2">2</tspan></text>
<text class="t" x="191.3" y="1874.5" text-anchor="end">0</text>
<text class="t" x="191.3" y="1741.8" text-anchor="end">2</text>
<text class="t" x="191.3" y="1609.2" text-anchor="end">4</text>
<text class="t" x="191.3" y="1476.5" text-anchor="end">6</text>
<text class="t" x="191.3" y="1343.8" text-anchor="end">8</text>
<text class="t" x="191.3" y="1211.1" text-anchor="end">10</text>
<path class="tk" d="M201.4 1994.8h10.6M1402.5 1994.8h-11.7M201.4 1862.1h10.6M1402.5 1862.1h-11.7M201.4 1729.4h10.6M1402.5 1729.4h-11.7M201.4 1596.8h10.6M1402.5 1596.8h-11.7M201.4 1464.1h10.6M1402.5 1464.1h-11.7M201.4 1331.4h10.6M1402.5 1331.4h-11.7M351.5 1198.7v11M351.5 2127.5v-11M651.8 1198.7v11M651.8 2127.5v-11M952.1 1198.7v11M952.1 2127.5v-11M1252.4 1198.7v11M1252.4 2127.5v-11"/>
<path fill="none" stroke="#000" stroke-width="4.2" d="M199.4 1198.7H1404M199.4 2127.5H1404"/>
<path fill="none" stroke="#000" stroke-width="4" d="M201.4 1198.7V2127.5"/>
<path fill="none" stroke="#000" stroke-width="3" d="M1402.6 1198.7V2127.5"/>
<text class="t" transform="translate(346.2 2169) scale(0.989 1)" text-anchor="middle">Metazoans</text>
<text class="t" transform="translate(651.3 2169) scale(1.0 1)" text-anchor="middle">Plants</text>
<text class="t" transform="translate(947.4 2164.5) scale(0.991 1)" text-anchor="middle">Saccharomycetes</text>
<text class="t" transform="translate(1253 2169) scale(0.976 1)" text-anchor="middle">Alveolates</text>
<text font-size="83" stroke="#000" stroke-width=".7"><tspan x="216.2" y="1288.1" textLength="39.2" lengthAdjust="spacingAndGlyphs">(</tspan><tspan x="253.6" y="1284.7" font-size="77.5">b</tspan><tspan x="298.6" y="1288.1" textLength="39.2" lengthAdjust="spacingAndGlyphs">)</tspan></text>
<rect x="969" y="1291" width="79" height="27.5" fill="#d3d3d2" stroke="#3c4446" stroke-width="1.2"/>
<text class="t" style="font-size:37.3px" transform="translate(1066.4 1317) scale(1.02 1)">Coil</text>
<rect x="969" y="1347.6" width="79" height="27.5" fill="#808080" stroke="#3c4446" stroke-width="1.2"/>
<text class="t" style="font-size:37.3px" transform="translate(1066.4 1373.6) scale(1.02 1)">Structure</text>
</g>
<g id="panel-c">
<path class="v" fill="#d3d3d2" d="M351 2584L351 2781.9L350.6 2783.9L350.5 2785.9L350.4 2787.9L350.4 2789.9L350.3 2791.9L350.2 2793.9L350.1 2795.9L350.1 2797.9L350 2799.9L349.9 2801.9L349.8 2803.9L349.7 2805.9L349.6 2807.9L349.5 2809.9L349.4 2811.9L349.3 2813.9L349.2 2815.9L349.1 2817.9L349 2819.9L349 2821.9L348.9 2823.9L348.8 2825.9L348.7 2827.9L348.6 2829.9L348.4 2831.9L348.3 2833.9L348.2 2835.9L348.1 2837.9L348 2839.9L347.9 2841.9L347.8 2843.9L347.6 2845.9L347.5 2847.9L347.4 2849.9L347.3 2851.9L347.1 2853.9L347 2855.9L346.9 2857.9L346.7 2859.9L346.6 2861.9L346.4 2863.9L346.3 2865.9L346.1 2867.9L346 2869.9L345.8 2871.9L345.7 2873.9L345.5 2875.9L345.4 2877.9L345.2 2879.9L345.1 2881.9L344.9 2883.9L344.7 2885.9L344.6 2887.9L344.4 2889.9L344.2 2891.9L344 2893.9L343.9 2895.9L343.7 2897.9L343.5 2899.9L343.3 2901.9L343.1 2903.9L342.9 2905.9L342.7 2907.9L342.5 2909.9L342.3 2911.9L342.1 2913.9L341.9 2915.9L341.7 2917.9L341.5 2919.9L341.3 2921.9L341 2923.9L340.8 2925.9L340.6 2927.9L340.3 2929.9L340.1 2931.9L339.8 2933.9L339.6 2935.9L339.3 2937.9L339 2939.9L338.8 2941.9L338.5 2943.9L338.2 2945.9L337.9 2947.9L337.6 2949.9L337.2 2951.9L336.9 2953.9L336.5 2955.9L336.2 2957.9L335.8 2959.9L335.4 2961.9L335 2963.9L334.6 2965.9L334.2 2967.9L333.7 2969.9L333.3 2971.9L332.8 2973.9L332.3 2975.9L331.8 2977.9L331.2 2979.9L330.6 2981.9L330 2983.9L329.4 2985.9L328.8 2987.9L328.1 2989.9L327.4 2991.9L326.6 2993.9L325.9 2995.9L325.1 2997.9L324.2 2999.9L323.4 3001.9L322.5 3003.9L321.6 3005.9L320.6 3007.9L319.6 3009.9L318.6 3011.9L317.5 3013.9L316.4 3015.9L315.2 3017.9L314 3019.9L312.8 3021.9L311.6 3023.9L310.2 3025.9L308.9 3027.9L307.5 3029.9L306.1 3031.9L304.6 3033.9L303.1 3035.9L301.5 3037.9L299.9 3039.9L298.3 3041.9L296.6 3043.9L294.9 3045.9L293.1 3047.9L291.3 3049.9L289.5 3051.9L287.6 3053.9L285.7 3055.9L283.8 3057.9L281.8 3059.9L279.8 3061.9L277.8 3063.9L275.8 3065.9L273.9 3067.9L271.9 3069.9L270 3071.9L268.2 3073.9L266.4 3075.9L264.8 3077.9L263.2 3079.9L261.8 3081.9L260.5 3083.9L259.4 3085.9L258.5 3087.9L257.7 3089.9L257.2 3091.9L256.9 3093.9L256.9 3095.9L257.1 3097.9L257.6 3099.9L258.3 3101.9L259.3 3103.9L260.6 3105.9L262.2 3107.9L264 3109.9L266.1 3111.9L268.4 3113.9L271 3115.9L273.8 3117.9L276.8 3119.9L280 3121.9L283.3 3123.9L286.8 3125.9L290.3 3127.9L294 3129.9L297.6 3131.9L301.3 3133.9L304.9 3135.9L308.5 3137.9L312 3139.9L315.4 3141.9L318.7 3143.9L321.9 3145.9L324.8 3147.9L327.7 3149.9L330.3 3151.9L332.7 3153.9L335 3155.9L337.1 3157.9L338.9 3159.9L340.6 3161.9L342.1 3163.9L343.5 3165.9L344.7 3167.9L345.7 3169.9L346.6 3171.9L347.4 3173.9L348 3175.9L348.6 3177.9L349.1 3179.9L349.4 3181.9L349.8 3183.9L350 3185.9L350.2 3187.9L350.4 3189.9L351 3191.9L351 3212.6Z"/>
<path class="q" stroke-dasharray="4.8 3.4" d="M302.9 3036.8H351"/>
<path class="q" stroke-dasharray="9.4 7" d="M263.3 3081H351"/>
<path class="q" stroke-dasharray="4.8 3.4" d="M261.4 3105.8H351"/>
<path class="v" fill="#808080" d="M351 2584L351 2799.8L351.4 2801.8L351.5 2803.8L351.6 2805.8L351.7 2807.8L351.7 2809.8L351.8 2811.8L351.9 2813.8L352 2815.8L352.2 2817.8L352.3 2819.8L352.4 2821.8L352.5 2823.8L352.6 2825.8L352.8 2827.8L352.9 2829.8L353 2831.8L353.2 2833.8L353.2 2835.8L353.2 2837.8L353.3 2839.8L353.3 2841.8L353.4 2843.8L353.4 2845.8L353.4 2847.8L353.5 2849.8L353.5 2851.8L353.6 2853.8L353.6 2855.8L353.7 2857.8L353.7 2859.8L353.8 2861.8L353.8 2863.8L353.9 2865.8L354 2867.8L354 2869.8L354.1 2871.8L354.1 2873.8L354.2 2875.8L354.3 2877.8L354.4 2879.8L354.4 2881.8L354.5 2883.8L354.6 2885.8L354.7 2887.8L354.8 2889.8L354.9 2891.8L355 2893.8L355.1 2895.8L355.2 2897.8L355.3 2899.8L355.4 2901.8L355.5 2903.8L355.6 2905.8L355.7 2907.8L355.8 2909.8L356 2911.8L356.1 2913.8L356.3 2915.8L356.4 2917.8L356.5 2919.8L356.7 2921.8L356.9 2923.8L357 2925.8L357.2 2927.8L357.4 2929.8L357.6 2931.8L357.8 2933.8L358 2935.8L358.2 2937.8L358.4 2939.8L358.6 2941.8L358.9 2943.8L359.1 2945.8L359.4 2947.8L359.6 2949.8L359.9 2951.8L360.2 2953.8L360.5 2955.8L360.8 2957.8L361.1 2959.8L361.4 2961.8L361.8 2963.8L362.1 2965.8L362.5 2967.8L362.9 2969.8L363.3 2971.8L363.7 2973.8L364.2 2975.8L364.6 2977.8L365.1 2979.8L365.6 2981.8L366.1 2983.8L366.6 2985.8L367.2 2987.8L367.7 2989.8L368.3 2991.8L368.9 2993.8L369.6 2995.8L370.3 2997.8L371 2999.8L371.7 3001.8L372.5 3003.8L373.3 3005.8L374.1 3007.8L374.9 3009.8L375.8 3011.8L376.8 3013.8L377.7 3015.8L378.7 3017.8L379.8 3019.8L380.9 3021.8L382 3023.8L383.2 3025.8L384.5 3027.8L385.8 3029.8L387.1 3031.8L388.5 3033.8L390 3035.8L391.6 3037.8L393.2 3039.8L394.8 3041.8L396.6 3043.8L398.4 3045.8L400.3 3047.8L402.2 3049.8L404.3 3051.8L406.5 3053.8L408.7 3055.8L411 3057.8L413.5 3059.8L416 3061.8L418.7 3063.8L421.4 3065.8L424.3 3067.8L427.4 3069.8L430.5 3071.8L433.8 3073.8L437.1 3075.8L440.5 3077.8L444 3079.8L447.4 3081.8L450.8 3083.8L454.2 3085.8L457.4 3087.8L460.4 3089.8L463.2 3091.8L465.8 3093.8L468 3095.8L469.8 3097.8L471.2 3099.8L472.1 3101.8L472.4 3103.8L472.2 3105.8L471.4 3107.8L469.9 3109.8L467.9 3111.8L465.2 3113.8L461.8 3115.8L457.9 3117.8L453.4 3119.8L448.5 3121.8L443.1 3123.8L437.3 3125.8L431.4 3127.8L425.3 3129.8L419.2 3131.8L413.2 3133.8L407.4 3135.8L401.8 3137.8L396.5 3139.8L391.5 3141.8L386.8 3143.8L382.5 3145.8L378.6 3147.8L375.1 3149.8L371.9 3151.8L369 3153.8L366.5 3155.8L364.2 3157.8L362.3 3159.8L360.6 3161.8L359.1 3163.8L357.8 3165.8L356.7 3167.8L355.8 3169.8L355 3171.8L354.3 3173.8L353.8 3175.8L353.3 3177.8L352.9 3179.8L352.6 3181.8L352.3 3183.8L352 3185.8L351.8 3187.8L351.7 3189.8L351.5 3191.8L351 3193.8L351 3212.6Z"/>
<path class="q" stroke-width="3" stroke-dasharray="4.8 3.4" d="M351 3060H413.1"/>
<path class="q" stroke-width="3" stroke-dasharray="9.4 7" d="M351 3095.8H466.8"/>
<path class="q" stroke-width="3" stroke-dasharray="4.8 3.4" d="M351 3113H465.2"/>
<path class="v" fill="#d3d3d2" d="M651 2520.5L651 2806.8L650.6 2808.8L650.5 2810.8L650.5 2812.8L650.4 2814.8L650.3 2816.8L650.2 2818.8L650.1 2820.8L650 2822.8L649.9 2824.8L649.8 2826.8L649.6 2828.8L649.5 2830.8L649.3 2832.8L649.2 2834.8L649 2836.8L648.9 2838.8L648.7 2840.8L648.6 2842.8L648.4 2844.8L648.3 2846.8L648.3 2848.8L648.2 2850.8L648.1 2852.8L648 2854.8L647.9 2856.8L647.8 2858.8L647.8 2860.8L647.7 2862.8L647.6 2864.8L647.5 2866.8L647.4 2868.8L647.2 2870.8L647.1 2872.8L647 2874.8L646.9 2876.8L646.8 2878.8L646.6 2880.8L646.5 2882.8L646.4 2884.8L646.2 2886.8L646.1 2888.8L645.9 2890.8L645.8 2892.8L645.6 2894.8L645.4 2896.8L645.2 2898.8L645.1 2900.8L644.9 2902.8L644.7 2904.8L644.5 2906.8L644.3 2908.8L644 2910.8L643.8 2912.8L643.6 2914.8L643.4 2916.8L643.1 2918.8L642.9 2920.8L642.6 2922.8L642.3 2924.8L642 2926.8L641.7 2928.8L641.4 2930.8L641.1 2932.8L640.8 2934.8L640.5 2936.8L640.1 2938.8L639.8 2940.8L639.4 2942.8L639.1 2944.8L638.7 2946.8L638.3 2948.8L637.9 2950.8L637.4 2952.8L637 2954.8L636.6 2956.8L636.1 2958.8L635.6 2960.8L635.1 2962.8L634.6 2964.8L634.1 2966.8L633.6 2968.8L633 2970.8L632.4 2972.8L631.9 2974.8L631.3 2976.8L630.6 2978.8L630 2980.8L629.4 2982.8L628.7 2984.8L628 2986.8L627.3 2988.8L626.6 2990.8L625.8 2992.8L625.1 2994.8L624.3 2996.8L623.5 2998.8L622.7 3000.8L621.9 3002.8L621 3004.8L620.1 3006.8L619.2 3008.8L618.3 3010.8L617.4 3012.8L616.4 3014.8L615.4 3016.8L614.4 3018.8L613.4 3020.8L612.4 3022.8L611.3 3024.8L610.2 3026.8L609.1 3028.8L608 3030.8L606.9 3032.8L605.7 3034.8L604.5 3036.8L603.3 3038.8L602.1 3040.8L600.9 3042.8L599.6 3044.8L598.3 3046.8L597.1 3048.8L595.8 3050.8L594.4 3052.8L593.1 3054.8L591.7 3056.8L590.4 3058.8L589 3060.8L587.6 3062.8L586.2 3064.8L584.8 3066.8L583.4 3068.8L581.9 3070.8L580.5 3072.8L579.1 3074.8L577.7 3076.8L576.3 3078.8L575 3080.8L573.7 3082.8L572.5 3084.8L571.4 3086.8L570.3 3088.8L569.4 3090.8L568.7 3092.8L568 3094.8L567.6 3096.8L567.3 3098.8L567.1 3100.8L567.2 3102.8L567.5 3104.8L568 3106.8L568.7 3108.8L569.6 3110.8L570.8 3112.8L572.2 3114.8L573.8 3116.8L575.7 3118.8L577.7 3120.8L580 3122.8L582.5 3124.8L585.1 3126.8L587.8 3128.8L590.7 3130.8L593.8 3132.8L596.9 3134.8L600 3136.8L603.2 3138.8L606.4 3140.8L609.6 3142.8L612.8 3144.8L615.9 3146.8L618.9 3148.8L621.9 3150.8L624.7 3152.8L627.3 3154.8L629.8 3156.8L632.2 3158.8L634.4 3160.8L636.4 3162.8L638.3 3164.8L640 3166.8L641.5 3168.8L642.9 3170.8L644.1 3172.8L645.2 3174.8L646.1 3176.8L647 3178.8L647.7 3180.8L648.3 3182.8L648.8 3184.8L649.2 3186.8L649.6 3188.8L649.9 3190.8L650.2 3192.8L650.4 3194.8L651 3196.8L651 3222.5Z"/>
<path class="q" stroke-dasharray="4.8 3.4" d="M606.5 3034.2H651"/>
<path class="q" stroke-dasharray="9.4 7" d="M575.9 3080.5H651"/>
<path class="q" stroke-dasharray="4.8 3.4" d="M570.5 3110.9H651"/>
<path class="v" fill="#808080" d="M651 2520.5L651 2814.8L651.4 2816.8L651.5 2818.8L651.6 2820.8L651.6 2822.8L651.7 2824.8L651.8 2826.8L651.8 2828.8L651.9 2830.8L652 2832.8L652.1 2834.8L652.2 2836.8L652.3 2838.8L652.4 2840.8L652.5 2842.8L652.6 2844.8L652.7 2846.8L652.7 2848.8L652.8 2850.8L652.9 2852.8L653 2854.8L653 2856.8L653.1 2858.8L653.2 2860.8L653.3 2862.8L653.4 2864.8L653.5 2866.8L653.5 2868.8L653.6 2870.8L653.7 2872.8L653.8 2874.8L653.9 2876.8L654 2878.8L654.1 2880.8L654.2 2882.8L654.3 2884.8L654.4 2886.8L654.5 2888.8L654.6 2890.8L654.7 2892.8L654.8 2894.8L654.9 2896.8L655 2898.8L655.1 2900.8L655.2 2902.8L655.3 2904.8L655.5 2906.8L655.6 2908.8L655.7 2910.8L655.8 2912.8L656 2914.8L656.1 2916.8L656.2 2918.8L656.4 2920.8L656.5 2922.8L656.6 2924.8L656.8 2926.8L657 2928.8L657.1 2930.8L657.3 2932.8L657.4 2934.8L657.6 2936.8L657.8 2938.8L658 2940.8L658.2 2942.8L658.4 2944.8L658.6 2946.8L658.9 2948.8L659.1 2950.8L659.3 2952.8L659.6 2954.8L659.9 2956.8L660.1 2958.8L660.4 2960.8L660.8 2962.8L661.1 2964.8L661.4 2966.8L661.8 2968.8L662.2 2970.8L662.6 2972.8L663 2974.8L663.5 2976.8L664 2978.8L664.5 2980.8L665 2982.8L665.6 2984.8L666.2 2986.8L666.9 2988.8L667.6 2990.8L668.3 2992.8L669.1 2994.8L669.9 2996.8L670.7 2998.8L671.6 3000.8L672.5 3002.8L673.4 3004.8L674.4 3006.8L675.5 3008.8L676.5 3010.8L677.6 3012.8L678.8 3014.8L679.9 3016.8L681.1 3018.8L682.3 3020.8L683.6 3022.8L684.8 3024.8L686.1 3026.8L687.4 3028.8L688.7 3030.8L690 3032.8L691.3 3034.8L692.5 3036.8L693.8 3038.8L695.2 3040.8L696.5 3042.8L697.8 3044.8L699.2 3046.8L700.7 3048.8L702.2 3050.8L703.8 3052.8L705.5 3054.8L707.2 3056.8L709.1 3058.8L711.1 3060.8L713.3 3062.8L715.7 3064.8L718.2 3066.8L720.9 3068.8L723.8 3070.8L726.8 3072.8L729.9 3074.8L733.2 3076.8L736.5 3078.8L740 3080.8L743.4 3082.8L746.9 3084.8L750.3 3086.8L753.7 3088.8L756.9 3090.8L759.9 3092.8L762.8 3094.8L765.3 3096.8L767.4 3098.8L769.2 3100.8L770.5 3102.8L771.3 3104.8L771.6 3106.8L771.2 3108.8L770.2 3110.8L768.6 3112.8L766.3 3114.8L763.3 3116.8L759.8 3118.8L755.6 3120.8L750.9 3122.8L745.7 3124.8L740.1 3126.8L734.2 3128.8L728.1 3130.8L721.9 3132.8L715.8 3134.8L709.9 3136.8L704.2 3138.8L698.7 3140.8L693.6 3142.8L688.8 3144.8L684.4 3146.8L680.4 3148.8L676.8 3150.8L673.5 3152.8L670.6 3154.8L668 3156.8L665.7 3158.8L663.6 3160.8L661.9 3162.8L660.3 3164.8L659 3166.8L657.8 3168.8L656.8 3170.8L656 3172.8L655.3 3174.8L654.6 3176.8L654.1 3178.8L653.7 3180.8L653.3 3182.8L652.9 3184.8L652.6 3186.8L652.4 3188.8L652.1 3190.8L651.9 3192.8L651.7 3194.8L651.6 3196.8L651 3198.8L651 3222.5Z"/>
<path class="q" stroke-width="3" stroke-dasharray="4.8 3.4" d="M651 3063.1H713"/>
<path class="q" stroke-width="3" stroke-dasharray="9.4 7" d="M651 3098.4H765.9"/>
<path class="q" stroke-width="3" stroke-dasharray="4.8 3.4" d="M651 3114.7H765.3"/>
<path class="v" fill="#d3d3d2" d="M951.5 2453L951.5 2806.8L951.1 2808.8L951 2810.8L950.9 2812.8L950.9 2814.8L950.8 2816.8L950.7 2818.8L950.6 2820.8L950.5 2822.8L950.3 2824.8L950.2 2826.8L950.1 2828.8L949.9 2830.8L949.8 2832.8L949.6 2834.8L949.5 2836.8L949.3 2838.8L949.1 2840.8L949 2842.8L948.8 2844.8L948.7 2846.8L948.6 2848.8L948.5 2850.8L948.4 2852.8L948.3 2854.8L948.2 2856.8L948.1 2858.8L948 2860.8L947.9 2862.8L947.8 2864.8L947.6 2866.8L947.5 2868.8L947.4 2870.8L947.3 2872.8L947.1 2874.8L947 2876.8L946.8 2878.8L946.7 2880.8L946.5 2882.8L946.3 2884.8L946.2 2886.8L946 2888.8L945.8 2890.8L945.6 2892.8L945.4 2894.8L945.2 2896.8L945 2898.8L944.8 2900.8L944.6 2902.8L944.4 2904.8L944.1 2906.8L943.9 2908.8L943.6 2910.8L943.4 2912.8L943.1 2914.8L942.8 2916.8L942.5 2918.8L942.2 2920.8L941.9 2922.8L941.6 2924.8L941.3 2926.8L941 2928.8L940.6 2930.8L940.3 2932.8L939.9 2934.8L939.6 2936.8L939.2 2938.8L938.8 2940.8L938.4 2942.8L938 2944.8L937.5 2946.8L937.1 2948.8L936.6 2950.8L936.2 2952.8L935.7 2954.8L935.2 2956.8L934.7 2958.8L934.2 2960.8L933.6 2962.8L933.1 2964.8L932.5 2966.8L931.9 2968.8L931.4 2970.8L930.7 2972.8L930.1 2974.8L929.5 2976.8L928.8 2978.8L928.1 2980.8L927.4 2982.8L926.7 2984.8L926 2986.8L925.3 2988.8L924.5 2990.8L923.7 2992.8L922.9 2994.8L922.1 2996.8L921.3 2998.8L920.4 3000.8L919.5 3002.8L918.6 3004.8L917.7 3006.8L916.8 3008.8L915.8 3010.8L914.8 3012.8L913.9 3014.8L912.8 3016.8L911.8 3018.8L910.7 3020.8L909.7 3022.8L908.6 3024.8L907.5 3026.8L906.3 3028.8L905.2 3030.8L904 3032.8L902.8 3034.8L901.6 3036.8L900.3 3038.8L899.1 3040.8L897.8 3042.8L896.5 3044.8L895.2 3046.8L893.8 3048.8L892.5 3050.8L891.1 3052.8L889.7 3054.8L888.3 3056.8L886.9 3058.8L885.4 3060.8L884 3062.8L882.5 3064.8L881 3066.8L879.5 3068.8L878 3070.8L876.4 3072.8L874.9 3074.8L873.4 3076.8L871.9 3078.8L870.5 3080.8L869.1 3082.8L867.7 3084.8L866.5 3086.8L865.3 3088.8L864.3 3090.8L863.4 3092.8L862.6 3094.8L862 3096.8L861.6 3098.8L861.3 3100.8L861.2 3102.8L861.4 3104.8L861.7 3106.8L862.3 3108.8L863.2 3110.8L864.2 3112.8L865.5 3114.8L867.1 3116.8L868.9 3118.8L870.9 3120.8L873.1 3122.8L875.6 3124.8L878.2 3126.8L881 3128.8L884 3130.8L887.1 3132.8L890.4 3134.8L893.7 3136.8L897.1 3138.8L900.5 3140.8L903.9 3142.8L907.3 3144.8L910.7 3146.8L914 3148.8L917.2 3150.8L920.3 3152.8L923.3 3154.8L926.1 3156.8L928.8 3158.8L931.3 3160.8L933.6 3162.8L935.8 3164.8L937.8 3166.8L939.6 3168.8L941.3 3170.8L942.7 3172.8L944 3174.8L945.2 3176.8L946.2 3178.8L947.1 3180.8L947.8 3182.8L948.5 3184.8L949.1 3186.8L949.6 3188.8L950 3190.8L950.3 3192.8L950.6 3194.8L950.8 3196.8L951.5 3198.8L951.5 3212.6Z"/>
<path class="q" stroke-dasharray="4.8 3.4" d="M902.8 3035.5H951.5"/>
<path class="q" stroke-dasharray="9.4 7" d="M870.6 3081.8H951.5"/>
<path class="q" stroke-dasharray="4.8 3.4" d="M864.8 3112.2H951.5"/>
<path class="v" fill="#808080" d="M951.5 2453L951.5 2812.8L952 2814.8L952 2816.8L952.1 2818.8L952.2 2820.8L952.2 2822.8L952.3 2824.8L952.4 2826.8L952.5 2828.8L952.6 2830.8L952.7 2832.8L952.8 2834.8L952.9 2836.8L953.1 2838.8L953.2 2840.8L953.3 2842.8L953.4 2844.8L953.5 2846.8L953.5 2848.8L953.6 2850.8L953.7 2852.8L953.8 2854.8L953.8 2856.8L953.9 2858.8L954 2860.8L954.1 2862.8L954.2 2864.8L954.3 2866.8L954.4 2868.8L954.4 2870.8L954.5 2872.8L954.6 2874.8L954.7 2876.8L954.8 2878.8L954.9 2880.8L955 2882.8L955.1 2884.8L955.2 2886.8L955.4 2888.8L955.5 2890.8L955.6 2892.8L955.7 2894.8L955.8 2896.8L956 2898.8L956.1 2900.8L956.2 2902.8L956.4 2904.8L956.5 2906.8L956.6 2908.8L956.8 2910.8L956.9 2912.8L957.1 2914.8L957.3 2916.8L957.4 2918.8L957.6 2920.8L957.8 2922.8L958 2924.8L958.1 2926.8L958.3 2928.8L958.5 2930.8L958.8 2932.8L959 2934.8L959.2 2936.8L959.4 2938.8L959.7 2940.8L959.9 2942.8L960.2 2944.8L960.4 2946.8L960.7 2948.8L961 2950.8L961.3 2952.8L961.6 2954.8L962 2956.8L962.3 2958.8L962.7 2960.8L963 2962.8L963.4 2964.8L963.8 2966.8L964.3 2968.8L964.7 2970.8L965.2 2972.8L965.7 2974.8L966.2 2976.8L966.7 2978.8L967.3 2980.8L967.9 2982.8L968.5 2984.8L969.2 2986.8L969.9 2988.8L970.6 2990.8L971.4 2992.8L972.2 2994.8L973 2996.8L973.9 2998.8L974.8 3000.8L975.7 3002.8L976.6 3004.8L977.7 3006.8L978.7 3008.8L979.8 3010.8L980.9 3012.8L982 3014.8L983.2 3016.8L984.4 3018.8L985.6 3020.8L986.9 3022.8L988.2 3024.8L989.5 3026.8L990.8 3028.8L992.1 3030.8L993.5 3032.8L994.8 3034.8L996.2 3036.8L997.6 3038.8L999.1 3040.8L1000.6 3042.8L1002.1 3044.8L1003.6 3046.8L1005.2 3048.8L1006.9 3050.8L1008.7 3052.8L1010.5 3054.8L1012.4 3056.8L1014.4 3058.8L1016.6 3060.8L1018.8 3062.8L1021.2 3064.8L1023.7 3066.8L1026.3 3068.8L1029 3070.8L1031.8 3072.8L1034.7 3074.8L1037.6 3076.8L1040.6 3078.8L1043.6 3080.8L1046.6 3082.8L1049.6 3084.8L1052.5 3086.8L1055.4 3088.8L1058.2 3090.8L1060.8 3092.8L1063.2 3094.8L1065.5 3096.8L1067.5 3098.8L1069.1 3100.8L1070.5 3102.8L1071.4 3104.8L1071.8 3106.8L1071.7 3108.8L1071 3110.8L1069.8 3112.8L1068 3114.8L1065.6 3116.8L1062.6 3118.8L1059.1 3120.8L1055 3122.8L1050.5 3124.8L1045.6 3126.8L1040.4 3128.8L1034.9 3130.8L1029.2 3132.8L1023.4 3134.8L1017.6 3136.8L1011.9 3138.8L1006.4 3140.8L1001 3142.8L995.8 3144.8L991 3146.8L986.4 3148.8L982.2 3150.8L978.3 3152.8L974.7 3154.8L971.5 3156.8L968.6 3158.8L966.1 3160.8L963.8 3162.8L961.8 3164.8L960.1 3166.8L958.6 3168.8L957.4 3170.8L956.3 3172.8L955.4 3174.8L954.6 3176.8L954 3178.8L953.5 3180.8L953.1 3182.8L952.8 3184.8L952.5 3186.8L952.2 3188.8L952.1 3190.8L951.5 3192.8L951.5 3212.6Z"/>
<path class="q" stroke-width="3" stroke-dasharray="4.8 3.4" d="M951.5 3059.8H1014.8"/>
<path class="q" stroke-width="3" stroke-dasharray="9.4 7" d="M951.5 3096.3H1063.8"/>
<path class="q" stroke-width="3" stroke-dasharray="4.8 3.4" d="M951.5 3116H1065.4"/>
<path class="v" fill="#d3d3d2" d="M1252.5 2594L1252.5 2784.9L1252.1 2786.9L1252 2788.9L1252 2790.9L1251.9 2792.9L1251.8 2794.9L1251.7 2796.9L1251.6 2798.9L1251.5 2800.9L1251.4 2802.9L1251.2 2804.9L1251.1 2806.9L1251 2808.9L1250.8 2810.9L1250.7 2812.9L1250.5 2814.9L1250.3 2816.9L1250.2 2818.9L1250 2820.9L1249.9 2822.9L1249.8 2824.9L1249.7 2826.9L1249.6 2828.9L1249.6 2830.9L1249.5 2832.9L1249.4 2834.9L1249.3 2836.9L1249.2 2838.9L1249.1 2840.9L1249.1 2842.9L1249 2844.9L1248.9 2846.9L1248.8 2848.9L1248.7 2850.9L1248.6 2852.9L1248.4 2854.9L1248.3 2856.9L1248.2 2858.9L1248.1 2860.9L1248 2862.9L1247.9 2864.9L1247.7 2866.9L1247.6 2868.9L1247.5 2870.9L1247.3 2872.9L1247.2 2874.9L1247 2876.9L1246.9 2878.9L1246.7 2880.9L1246.6 2882.9L1246.4 2884.9L1246.2 2886.9L1246.1 2888.9L1245.9 2890.9L1245.7 2892.9L1245.5 2894.9L1245.3 2896.9L1245.1 2898.9L1244.9 2900.9L1244.7 2902.9L1244.5 2904.9L1244.3 2906.9L1244 2908.9L1243.8 2910.9L1243.6 2912.9L1243.3 2914.9L1243.1 2916.9L1242.8 2918.9L1242.5 2920.9L1242.3 2922.9L1242 2924.9L1241.7 2926.9L1241.4 2928.9L1241.1 2930.9L1240.7 2932.9L1240.4 2934.9L1240.1 2936.9L1239.7 2938.9L1239.4 2940.9L1239 2942.9L1238.6 2944.9L1238.2 2946.9L1237.8 2948.9L1237.4 2950.9L1237 2952.9L1236.6 2954.9L1236.1 2956.9L1235.7 2958.9L1235.2 2960.9L1234.7 2962.9L1234.2 2964.9L1233.7 2966.9L1233.2 2968.9L1232.7 2970.9L1232.1 2972.9L1231.6 2974.9L1231 2976.9L1230.4 2978.9L1229.8 2980.9L1229.2 2982.9L1228.5 2984.9L1227.8 2986.9L1227.2 2988.9L1226.5 2990.9L1225.8 2992.9L1225 2994.9L1224.3 2996.9L1223.5 2998.9L1222.7 3000.9L1221.9 3002.9L1221 3004.9L1220.2 3006.9L1219.3 3008.9L1218.4 3010.9L1217.4 3012.9L1216.5 3014.9L1215.5 3016.9L1214.5 3018.9L1213.5 3020.9L1212.4 3022.9L1211.3 3024.9L1210.2 3026.9L1209.1 3028.9L1207.9 3030.9L1206.7 3032.9L1205.5 3034.9L1204.2 3036.9L1202.9 3038.9L1201.6 3040.9L1200.2 3042.9L1198.8 3044.9L1197.4 3046.9L1195.9 3048.9L1194.4 3050.9L1192.9 3052.9L1191.3 3054.9L1189.7 3056.9L1188 3058.9L1186.4 3060.9L1184.6 3062.9L1182.9 3064.9L1181.2 3066.9L1179.5 3068.9L1177.8 3070.9L1176.1 3072.9L1174.5 3074.9L1172.9 3076.9L1171.4 3078.9L1170 3080.9L1168.7 3082.9L1167.5 3084.9L1166.5 3086.9L1165.6 3088.9L1164.9 3090.9L1164.4 3092.9L1164 3094.9L1163.9 3096.9L1164 3098.9L1164.4 3100.9L1165 3102.9L1165.8 3104.9L1166.9 3106.9L1168.2 3108.9L1169.8 3110.9L1171.7 3112.9L1173.8 3114.9L1176.1 3116.9L1178.6 3118.9L1181.3 3120.9L1184.2 3122.9L1187.2 3124.9L1190.4 3126.9L1193.7 3128.9L1197 3130.9L1200.4 3132.9L1203.9 3134.9L1207.3 3136.9L1210.7 3138.9L1214 3140.9L1217.3 3142.9L1220.5 3144.9L1223.5 3146.9L1226.4 3148.9L1229.1 3150.9L1231.7 3152.9L1234.1 3154.9L1236.3 3156.9L1238.4 3158.9L1240.2 3160.9L1241.9 3162.9L1243.4 3164.9L1244.8 3166.9L1246 3168.9L1247 3170.9L1248 3172.9L1248.7 3174.9L1249.4 3176.9L1250 3178.9L1250.5 3180.9L1250.9 3182.9L1251.2 3184.9L1251.5 3186.9L1251.7 3188.9L1251.9 3190.9L1252.5 3192.9L1252.5 3209.3Z"/>
<path class="q" stroke-dasharray="4.8 3.4" d="M1209.7 3028.6H1252.5"/>
<path class="q" stroke-dasharray="9.4 7" d="M1171.6 3079.7H1252.5"/>
<path class="q" stroke-dasharray="4.8 3.4" d="M1168.3 3107.8H1252.5"/>
<path class="v" fill="#808080" d="M1252.5 2594L1252.5 2810.8L1252.9 2812.8L1253 2814.8L1253 2816.8L1253.1 2818.8L1253.2 2820.8L1253.2 2822.8L1253.3 2824.8L1253.4 2826.8L1253.5 2828.8L1253.6 2830.8L1253.7 2832.8L1253.9 2834.8L1254 2836.8L1254.1 2838.8L1254.2 2840.8L1254.3 2842.8L1254.4 2844.8L1254.5 2846.8L1254.5 2848.8L1254.6 2850.8L1254.6 2852.8L1254.7 2854.8L1254.7 2856.8L1254.8 2858.8L1254.9 2860.8L1254.9 2862.8L1255 2864.8L1255 2866.8L1255.1 2868.8L1255.2 2870.8L1255.3 2872.8L1255.3 2874.8L1255.4 2876.8L1255.5 2878.8L1255.6 2880.8L1255.7 2882.8L1255.8 2884.8L1255.9 2886.8L1256 2888.8L1256.1 2890.8L1256.2 2892.8L1256.3 2894.8L1256.4 2896.8L1256.5 2898.8L1256.6 2900.8L1256.7 2902.8L1256.9 2904.8L1257 2906.8L1257.2 2908.8L1257.3 2910.8L1257.5 2912.8L1257.6 2914.8L1257.8 2916.8L1257.9 2918.8L1258.1 2920.8L1258.3 2922.8L1258.5 2924.8L1258.7 2926.8L1258.9 2928.8L1259.1 2930.8L1259.3 2932.8L1259.5 2934.8L1259.8 2936.8L1260 2938.8L1260.3 2940.8L1260.5 2942.8L1260.8 2944.8L1261.1 2946.8L1261.4 2948.8L1261.7 2950.8L1262 2952.8L1262.3 2954.8L1262.6 2956.8L1263 2958.8L1263.3 2960.8L1263.7 2962.8L1264.1 2964.8L1264.5 2966.8L1264.9 2968.8L1265.4 2970.8L1265.8 2972.8L1266.3 2974.8L1266.7 2976.8L1267.2 2978.8L1267.8 2980.8L1268.3 2982.8L1268.9 2984.8L1269.4 2986.8L1270 2988.8L1270.6 2990.8L1271.3 2992.8L1271.9 2994.8L1272.6 2996.8L1273.3 2998.8L1274.1 3000.8L1274.8 3002.8L1275.6 3004.8L1276.5 3006.8L1277.3 3008.8L1278.2 3010.8L1279.1 3012.8L1280.1 3014.8L1281.1 3016.8L1282.1 3018.8L1283.1 3020.8L1284.3 3022.8L1285.4 3024.8L1286.6 3026.8L1287.8 3028.8L1289.1 3030.8L1290.5 3032.8L1291.9 3034.8L1293.3 3036.8L1294.8 3038.8L1296.4 3040.8L1298.1 3042.8L1299.8 3044.8L1301.6 3046.8L1303.4 3048.8L1305.3 3050.8L1307.4 3052.8L1309.5 3054.8L1311.6 3056.8L1313.9 3058.8L1316.3 3060.8L1318.8 3062.8L1321.4 3064.8L1324.1 3066.8L1327 3068.8L1329.9 3070.8L1333 3072.8L1336.2 3074.8L1339.5 3076.8L1342.8 3078.8L1346.1 3080.8L1349.5 3082.8L1352.7 3084.8L1355.9 3086.8L1359 3088.8L1361.9 3090.8L1364.5 3092.8L1366.9 3094.8L1368.9 3096.8L1370.5 3098.8L1371.7 3100.8L1372.4 3102.8L1372.6 3104.8L1372.1 3106.8L1371.1 3108.8L1369.5 3110.8L1367.3 3112.8L1364.5 3114.8L1361 3116.8L1357 3118.8L1352.5 3120.8L1347.5 3122.8L1342.1 3124.8L1336.4 3126.8L1330.5 3128.8L1324.5 3130.8L1318.5 3132.8L1312.6 3134.8L1306.8 3136.8L1301.3 3138.8L1296.1 3140.8L1291.2 3142.8L1286.6 3144.8L1282.4 3146.8L1278.5 3148.8L1275 3150.8L1271.9 3152.8L1269.1 3154.8L1266.6 3156.8L1264.4 3158.8L1262.5 3160.8L1260.9 3162.8L1259.5 3164.8L1258.3 3166.8L1257.3 3168.8L1256.4 3170.8L1255.7 3172.8L1255.1 3174.8L1254.6 3176.8L1254.2 3178.8L1253.9 3180.8L1253.6 3182.8L1253.4 3184.8L1253.2 3186.8L1253 3188.8L1252.5 3190.8L1252.5 3209.3Z"/>
<path class="q" stroke-width="3" stroke-dasharray="4.8 3.4" d="M1252.5 3059.3H1313.9"/>
<path class="q" stroke-width="3" stroke-dasharray="9.4 7" d="M1252.5 3095.8H1366.8"/>
<path class="q" stroke-width="3" stroke-dasharray="4.8 3.4" d="M1252.5 3111.2H1368"/>
<text class="t" text-anchor="end"><tspan class="h" x="166.6" y="3301.2" textLength="16.7" lengthAdjust="spacingAndGlyphs">-</tspan><tspan x="191.3" y="3302.5">4</tspan></text>
<text class="t" text-anchor="end"><tspan class="h" x="166.6" y="3185.2" textLength="16.7" lengthAdjust="spacingAndGlyphs">-</tspan><tspan x="191.3" y="3186.5">2</tspan></text>
<text class="t" x="191.3" y="3070.4" text-anchor="end">0</text>
<text class="t" x="191.3" y="2954.4" text-anchor="end">2</text>
<text class="t" x="191.3" y="2838.4" text-anchor="end">4</text>
<text class="t" x="191.3" y="2722.4" text-anchor="end">6</text>
<text class="t" x="191.3" y="2606.4" text-anchor="end">8</text>
<text class="t" x="191.3" y="2490.3" text-anchor="end">10</text>
<text class="t" x="191.3" y="2374.3" text-anchor="end">12</text>
<path class="tk" d="M201.4 3175.5h10.6M1402.5 3175.5h-11.7M201.4 3059.4h10.6M1402.5 3059.4h-11.7M201.4 2943.4h10.6M1402.5 2943.4h-11.7M201.4 2827.4h10.6M1402.5 2827.4h-11.7M201.4 2711.4h10.6M1402.5 2711.4h-11.7M201.4 2595.4h10.6M1402.5 2595.4h-11.7M201.4 2479.3h10.6M1402.5 2479.3h-11.7M351.5 2363.3v11M351.5 3291.5v-11M651.8 2363.3v11M651.8 3291.5v-11M952.1 2363.3v11M952.1 3291.5v-11M1252.4 2363.3v11M1252.4 3291.5v-11"/>
<path fill="none" stroke="#000" stroke-width="4.2" d="M199.4 2363.3H1404M199.4 3291.5H1404"/>
<path fill="none" stroke="#000" stroke-width="4" d="M201.4 2363.3V3291.5"/>
<path fill="none" stroke="#000" stroke-width="3" d="M1402.6 2363.3V3291.5"/>
<text class="t" transform="translate(346.2 3332.2) scale(0.989 1)" text-anchor="middle">Metazoans</text>
<text class="t" transform="translate(651.3 3332.2) scale(1.0 1)" text-anchor="middle">Plants</text>
<text class="t" transform="translate(947.4 3327.7) scale(0.991 1)" text-anchor="middle">Saccharomycetes</text>
<text class="t" transform="translate(1253 3332.2) scale(0.976 1)" text-anchor="middle">Alveolates</text>
<text font-size="83" stroke="#000" stroke-width=".7"><tspan x="220.2" y="2452.7" textLength="39.2" lengthAdjust="spacingAndGlyphs">(</tspan><tspan x="257.1" y="2449.3" font-size="79.5">c</tspan><tspan x="295" y="2452.7" textLength="39.2" lengthAdjust="spacingAndGlyphs">)</tspan></text>
<rect x="969" y="2435.9" width="79" height="27.5" fill="#d3d3d2" stroke="#3c4446" stroke-width="1.2"/>
<text class="t" style="font-size:37.3px" transform="translate(1066.4 2461.9) scale(1.02 1)">Linker</text>
<rect x="969" y="2492.5" width="79" height="27.5" fill="#808080" stroke="#3c4446" stroke-width="1.2"/>
<text class="t" style="font-size:37.3px" transform="translate(1066.4 2518.5) scale(1.02 1)">Domain</text>
</g>
</svg></body></html>
